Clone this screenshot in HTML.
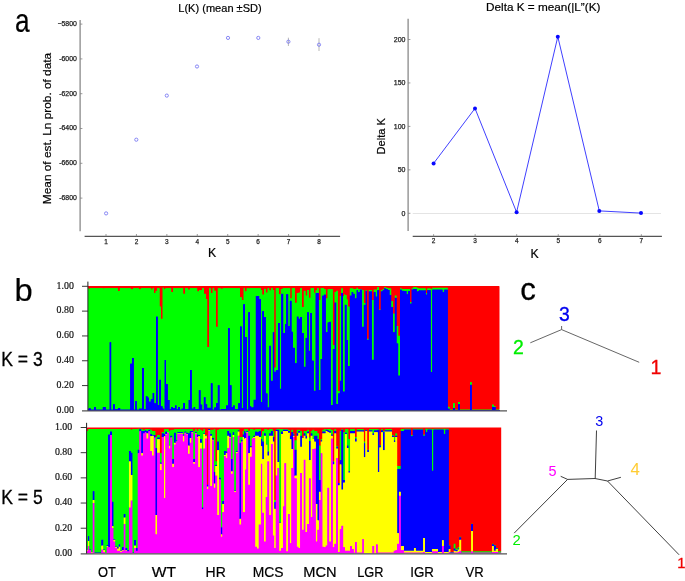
<!DOCTYPE html>
<html lang="en"><head><meta charset="utf-8"><title>STRUCTURE analysis figure</title>
<style>
html,body{margin:0;padding:0;background:#fff;}
body{width:685px;height:581px;overflow:hidden;}
svg{display:block;}
</style></head>
<body>
<svg width="685" height="581" viewBox="0 0 685 581">
<rect width="685" height="581" fill="#fff"/>
<g id="plot-lk"><line x1="80.1" y1="20" x2="80.1" y2="231.2" stroke="#808080" stroke-width="1.2"/>
<line x1="84.6" y1="236.4" x2="340.1" y2="236.4" stroke="#555" stroke-width="1.2"/>
<line x1="80.1" y1="24.1" x2="82.4" y2="24.1" stroke="#808080" stroke-width="0.8"/>
<text x="76.8" y="26" font-family="'Liberation Sans',Arial,sans-serif" font-size="6.9" fill="#222" text-anchor="end" stroke="#222" stroke-width="0.25">−5800</text>
<line x1="80.1" y1="58.9" x2="82.4" y2="58.9" stroke="#808080" stroke-width="0.8"/>
<text x="76.8" y="60.8" font-family="'Liberation Sans',Arial,sans-serif" font-size="6.9" fill="#222" text-anchor="end" stroke="#222" stroke-width="0.25">-6000</text>
<line x1="80.1" y1="93.7" x2="82.4" y2="93.7" stroke="#808080" stroke-width="0.8"/>
<text x="76.8" y="95.6" font-family="'Liberation Sans',Arial,sans-serif" font-size="6.9" fill="#222" text-anchor="end" stroke="#222" stroke-width="0.25">-6200</text>
<line x1="80.1" y1="128.5" x2="82.4" y2="128.5" stroke="#808080" stroke-width="0.8"/>
<text x="76.8" y="130.4" font-family="'Liberation Sans',Arial,sans-serif" font-size="6.9" fill="#222" text-anchor="end" stroke="#222" stroke-width="0.25">-6400</text>
<line x1="80.1" y1="163.3" x2="82.4" y2="163.3" stroke="#808080" stroke-width="0.8"/>
<text x="76.8" y="165.2" font-family="'Liberation Sans',Arial,sans-serif" font-size="6.9" fill="#222" text-anchor="end" stroke="#222" stroke-width="0.25">-6600</text>
<line x1="80.1" y1="198.1" x2="82.4" y2="198.1" stroke="#808080" stroke-width="0.8"/>
<text x="76.8" y="200" font-family="'Liberation Sans',Arial,sans-serif" font-size="6.9" fill="#222" text-anchor="end" stroke="#222" stroke-width="0.25">-6800</text>
<line x1="106" y1="234" x2="106" y2="236.3" stroke="#808080" stroke-width="0.8"/>
<text x="106" y="243.6" font-family="'Liberation Sans',Arial,sans-serif" font-size="7.3" fill="#222" text-anchor="middle" textLength="3.6" lengthAdjust="spacingAndGlyphs" stroke="#222" stroke-width="0.25">1</text>
<line x1="136.43" y1="234" x2="136.43" y2="236.3" stroke="#808080" stroke-width="0.8"/>
<text x="136.43" y="243.6" font-family="'Liberation Sans',Arial,sans-serif" font-size="7.3" fill="#222" text-anchor="middle" textLength="3.6" lengthAdjust="spacingAndGlyphs" stroke="#222" stroke-width="0.25">2</text>
<line x1="166.86" y1="234" x2="166.86" y2="236.3" stroke="#808080" stroke-width="0.8"/>
<text x="166.86" y="243.6" font-family="'Liberation Sans',Arial,sans-serif" font-size="7.3" fill="#222" text-anchor="middle" textLength="3.6" lengthAdjust="spacingAndGlyphs" stroke="#222" stroke-width="0.25">3</text>
<line x1="197.29" y1="234" x2="197.29" y2="236.3" stroke="#808080" stroke-width="0.8"/>
<text x="197.29" y="243.6" font-family="'Liberation Sans',Arial,sans-serif" font-size="7.3" fill="#222" text-anchor="middle" textLength="3.6" lengthAdjust="spacingAndGlyphs" stroke="#222" stroke-width="0.25">4</text>
<line x1="227.72" y1="234" x2="227.72" y2="236.3" stroke="#808080" stroke-width="0.8"/>
<text x="227.72" y="243.6" font-family="'Liberation Sans',Arial,sans-serif" font-size="7.3" fill="#222" text-anchor="middle" textLength="3.6" lengthAdjust="spacingAndGlyphs" stroke="#222" stroke-width="0.25">5</text>
<line x1="258.15" y1="234" x2="258.15" y2="236.3" stroke="#808080" stroke-width="0.8"/>
<text x="258.15" y="243.6" font-family="'Liberation Sans',Arial,sans-serif" font-size="7.3" fill="#222" text-anchor="middle" textLength="3.6" lengthAdjust="spacingAndGlyphs" stroke="#222" stroke-width="0.25">6</text>
<line x1="288.58" y1="234" x2="288.58" y2="236.3" stroke="#808080" stroke-width="0.8"/>
<text x="288.58" y="243.6" font-family="'Liberation Sans',Arial,sans-serif" font-size="7.3" fill="#222" text-anchor="middle" textLength="3.6" lengthAdjust="spacingAndGlyphs" stroke="#222" stroke-width="0.25">7</text>
<line x1="319.01" y1="234" x2="319.01" y2="236.3" stroke="#808080" stroke-width="0.8"/>
<text x="319.01" y="243.6" font-family="'Liberation Sans',Arial,sans-serif" font-size="7.3" fill="#222" text-anchor="middle" textLength="3.6" lengthAdjust="spacingAndGlyphs" stroke="#222" stroke-width="0.25">8</text>
<circle cx="106.1" cy="213.4" r="1.6" fill="none" stroke="#7474f2" stroke-width="0.85"/>
<circle cx="136.3" cy="139.7" r="1.6" fill="none" stroke="#7474f2" stroke-width="0.85"/>
<circle cx="166.8" cy="95.6" r="1.6" fill="none" stroke="#7474f2" stroke-width="0.85"/>
<circle cx="197" cy="66.5" r="1.6" fill="none" stroke="#7474f2" stroke-width="0.85"/>
<circle cx="228" cy="37.9" r="1.6" fill="none" stroke="#7474f2" stroke-width="0.85"/>
<circle cx="258.3" cy="37.9" r="1.6" fill="none" stroke="#7474f2" stroke-width="0.85"/>
<line x1="288.4" y1="37.7" x2="288.4" y2="46" stroke="#999" stroke-width="0.7"/>
<circle cx="288.4" cy="41.7" r="1.6" fill="none" stroke="#7474f2" stroke-width="0.85"/>
<line x1="319" y1="38.2" x2="319" y2="51" stroke="#999" stroke-width="0.7"/>
<circle cx="319" cy="44.7" r="1.6" fill="none" stroke="#7474f2" stroke-width="0.85"/>
<text x="220" y="12.2" font-family="'Liberation Sans',Arial,sans-serif" font-size="11.5" fill="#000" text-anchor="middle" textLength="83.4" lengthAdjust="spacingAndGlyphs" stroke="#000" stroke-width="0.2">L(K) (mean ±SD)</text>
<text x="212" y="257.3" font-family="'Liberation Sans',Arial,sans-serif" font-size="12.3" fill="#000" text-anchor="middle" stroke="#000" stroke-width="0.2">K</text>
<text transform="translate(50.9,128.5) rotate(-90)" font-family="'Liberation Sans',Arial,sans-serif" font-size="11.8" text-anchor="middle" textLength="151.3" lengthAdjust="spacingAndGlyphs" fill="#000" stroke="#000" stroke-width="0.2">Mean of est. Ln prob. of data</text></g>
<g id="plot-deltak"><line x1="412.7" y1="213.5" x2="661" y2="213.5" stroke="#e4e4e4" stroke-width="1"/>
<line x1="408.1" y1="18.8" x2="408.1" y2="231" stroke="#808080" stroke-width="1.2"/>
<line x1="412.7" y1="236.4" x2="661.9" y2="236.4" stroke="#555" stroke-width="1.2"/>
<line x1="408.1" y1="213.3" x2="410.4" y2="213.3" stroke="#808080" stroke-width="0.8"/>
<text x="405.5" y="215.8" font-family="'Liberation Sans',Arial,sans-serif" font-size="7" fill="#222" text-anchor="end" stroke="#222" stroke-width="0.25">0</text>
<line x1="408.1" y1="169.85" x2="410.4" y2="169.85" stroke="#808080" stroke-width="0.8"/>
<text x="405.5" y="172.35" font-family="'Liberation Sans',Arial,sans-serif" font-size="7" fill="#222" text-anchor="end" stroke="#222" stroke-width="0.25">50</text>
<line x1="408.1" y1="126.4" x2="410.4" y2="126.4" stroke="#808080" stroke-width="0.8"/>
<text x="405.5" y="128.9" font-family="'Liberation Sans',Arial,sans-serif" font-size="7" fill="#222" text-anchor="end" stroke="#222" stroke-width="0.25">100</text>
<line x1="408.1" y1="82.95" x2="410.4" y2="82.95" stroke="#808080" stroke-width="0.8"/>
<text x="405.5" y="85.45" font-family="'Liberation Sans',Arial,sans-serif" font-size="7" fill="#222" text-anchor="end" stroke="#222" stroke-width="0.25">150</text>
<line x1="408.1" y1="39.5" x2="410.4" y2="39.5" stroke="#808080" stroke-width="0.8"/>
<text x="405.5" y="42" font-family="'Liberation Sans',Arial,sans-serif" font-size="7" fill="#222" text-anchor="end" stroke="#222" stroke-width="0.25">200</text>
<line x1="433.6" y1="234.2" x2="433.6" y2="236.4" stroke="#808080" stroke-width="0.8"/>
<text x="433.6" y="243.4" font-family="'Liberation Sans',Arial,sans-serif" font-size="7.3" fill="#222" text-anchor="middle" textLength="3.6" lengthAdjust="spacingAndGlyphs" stroke="#222" stroke-width="0.25">2</text>
<line x1="475.15" y1="234.2" x2="475.15" y2="236.4" stroke="#808080" stroke-width="0.8"/>
<text x="475.15" y="243.4" font-family="'Liberation Sans',Arial,sans-serif" font-size="7.3" fill="#222" text-anchor="middle" textLength="3.6" lengthAdjust="spacingAndGlyphs" stroke="#222" stroke-width="0.25">3</text>
<line x1="516.7" y1="234.2" x2="516.7" y2="236.4" stroke="#808080" stroke-width="0.8"/>
<text x="516.7" y="243.4" font-family="'Liberation Sans',Arial,sans-serif" font-size="7.3" fill="#222" text-anchor="middle" textLength="3.6" lengthAdjust="spacingAndGlyphs" stroke="#222" stroke-width="0.25">4</text>
<line x1="558.25" y1="234.2" x2="558.25" y2="236.4" stroke="#808080" stroke-width="0.8"/>
<text x="558.25" y="243.4" font-family="'Liberation Sans',Arial,sans-serif" font-size="7.3" fill="#222" text-anchor="middle" textLength="3.6" lengthAdjust="spacingAndGlyphs" stroke="#222" stroke-width="0.25">5</text>
<line x1="599.8" y1="234.2" x2="599.8" y2="236.4" stroke="#808080" stroke-width="0.8"/>
<text x="599.8" y="243.4" font-family="'Liberation Sans',Arial,sans-serif" font-size="7.3" fill="#222" text-anchor="middle" textLength="3.6" lengthAdjust="spacingAndGlyphs" stroke="#222" stroke-width="0.25">6</text>
<line x1="641.35" y1="234.2" x2="641.35" y2="236.4" stroke="#808080" stroke-width="0.8"/>
<text x="641.35" y="243.4" font-family="'Liberation Sans',Arial,sans-serif" font-size="7.3" fill="#222" text-anchor="middle" textLength="3.6" lengthAdjust="spacingAndGlyphs" stroke="#222" stroke-width="0.25">7</text>
<polyline fill="none" stroke="#4040ff" stroke-width="1" points="433.6,163.4 475,108.4 516.6,212.2 557.8,36.7 599.3,210.9 641,213.1"/>
<circle cx="433.6" cy="163.4" r="2" fill="#0808ff"/>
<circle cx="475" cy="108.4" r="2" fill="#0808ff"/>
<circle cx="516.6" cy="212.2" r="2" fill="#0808ff"/>
<circle cx="557.8" cy="36.7" r="2" fill="#0808ff"/>
<circle cx="599.3" cy="210.9" r="2" fill="#0808ff"/>
<circle cx="641" cy="213.1" r="2" fill="#0808ff"/>
<text x="486" y="11.3" font-family="'Liberation Sans',Arial,sans-serif" font-size="11.5" fill="#000" text-anchor="start" textLength="114.4" lengthAdjust="spacingAndGlyphs" stroke="#000" stroke-width="0.2">Delta K = mean(|L”(K)</text>
<text x="534.7" y="258" font-family="'Liberation Sans',Arial,sans-serif" font-size="12.3" fill="#000" text-anchor="middle" stroke="#000" stroke-width="0.2">K</text>
<text transform="translate(385.3,136.3) rotate(-90)" font-family="'Liberation Sans',Arial,sans-serif" font-size="11.8" text-anchor="middle" textLength="36.4" lengthAdjust="spacingAndGlyphs" fill="#000" stroke="#000" stroke-width="0.2">Delta K</text></g>
<g id="barplots"><g shape-rendering="crispEdges"><rect x="88" y="286.3" width="411.4" height="124.2" fill="#f00"/>
<path fill="#0f0" d="M88 410.5V288.3H88.75V289.3H89.75V288.3H102.75V288.4H104.5V288.3H118V291.1H119.75V288.3H130.75V289.3H133V288.3H139V289.3H140.75V288.3H151.25V289.6H152.5V288.3H154V293.1H155.5V290.8H157V288.3H159.5V306.6H161V318.8H162.5V287.8H164V289.3H165.25V288.3H171.25V291.9H173V288.3H183.25V293.7H185V288.3H188V289.6H189.75V288.3H197.25V291.4H199V290.2H202V288.3H204V293.7H205.75V299H207.25V346.9H209V288.3H210.75V293.1H212.5V288.3H214.25V290.8H216V326.7H217.75V288.3H220.75V288.8H222.5V288.3H240V297.2H241.75V300.1H243.5V288.3H245V291.4H246.5V288.3H248.25V288.4H249.75V288.3H261V290H262.25V294.6H264V288.8H265.75V292.5H267.5V288.3H269.25V290.4H271V288.3H272.75V290H274.25V367.6H275.75V288.3H279V294.3H280.75V289H282.5V288.3H290.25V298.4H291.75V288.3H295V302.8H296.75V293.1H298.5V292.5H300.25V288.3H302V307.1H303.75V290.8H305.5V295.5H307.25V290H309V297.8H310.5V288.3H314V292.8H315.5V290.2H317V288.3H318.75V300.1H320.5V288.3H324V289.3H325.75V298.4H327.5V289.3H332.75V345.2H334.5V291.9H336.25V290.8H338V391H339.75V296H341.25V288.4H343V296H344V294.3H344.75V294.9H346.5V299.5H348V306.6H349.75V288.4H353.25V289H356.5V287.8H358V289H362V290H363.75V303.1H365.5V290H367V338.7H368.75V290H372V300.1H373.75V289.6H377.25V287.3H379V309.5H380.75V290.2H382.5V289H384.25V287.3H386V287.8H387.75V288.4H391.25V301.3H393V313.6H394.75V295.5H396.5V325.9H398.25V335.8H400V288.4H401.75V289H410V302.1H411.5V288.4H413.25V287.3H416.75V287.8H418.5V288.4H425.75V293.1H427.25V288.4H430.75V289H432.25V287.8H447.75V406.8H449.5V409.5H453V403.3H454.75V409.5H458V401.9H459.75V409.5H470V382.3H471.75V409.5H492V404.5H493.75V406.2H495.5V409.5H499.5V410.5Z"/>
<path fill="#00f" d="M88 410.5V409.2H88.75V408H90.5V409.5H94V407.1H95.75V409.6H102.75V407.1H105.75V409.6H109.5V342.2H111.25V409.6H113V404.2H114.75V409.2H118V408H120.25V409.5H130.25V363.5H132V358H133.75V409.6H135.25V401H136.75V409.6H139V408.6H142V368H144V409.2H145.75V396.3H147.5V397.5H149V401.6H150.75V399.2H152.5V393H154.25V403.3H156V316.5H157.75V405.1H159.25V379.7H161V406.2H162.5V408.6H164V409.6H164.5V360H166V384H167.75V400H169.5V409.2H171.25V407.1H173V408H175V405.4H176.5V409.2H178V407.1H179.75V409.6H181.5V408.6H183.25V403H185V409.2H188.5V400H190V370H191.75V408.6H193.5V407.1H195.25V409.2H198.75V390.2H200.5V404.5H202.25V409.6H203.75V397.2H205.5V404.2H207.25V407.8H210.75V383.2H212.5V409.6H214.25V407.4H216V403H217.75V385.2H219.5V409.6H221.25V408.9H226V405.4H228V328.2H229.75V385.2H231.5V407.1H233V405.4H234.75V409.2H238.25V403.3H240V326.4H241.75V408H243.25V304.2H245V337H247V409.6H248.25V312.2H250V406.2H251.25V407.4H253.5V399.8H255.75V296H259.25V299H261V402.1H262.25V311.2H264V317.1H265.75V393.4H267.5V407.4H269.25V345.7H271V380.7H272.75V332.3H274.25V371.7H275.75V370.3H278V322.9H279.75V388.7H281.25V293.7H283.25V332.9H285V324.1H286.25V294.3H288.25V325.9H289.75V300.7H291.5V331.7H293V347.8H295V363.3H296.75V316.5H298.5V318.8H300.25V317.1H302V332.9H303.75V366.8H305.5V338.1H307.25V312.2H308.75V350.7H310.25V313H312V360.6H313.75V390.7H315.5V293.1H318.75V389.9H320.5V358.9H322.25V295.5H324V294.6H325.75V332.3H327.5V322.4H329.25V321.8H331V405.1H332.75V348.9H334.5V302.5H336.25V403.9H338V393.4H339.75V380.7H341.25V293.1H343V391.6H344.75V304.8H346.5V339.9H348V365.9H349.75V295.5H351.5V291.9H353.25V293.7H354.75V298.4H356.5V290.2H358V292.3H359.75V289.6H362V326.7H363.75V304.8H365.5V290.8H367V339.7H368.75V291.4H372V359.8H373.75V291.9H375.5V296.6H377.25V290.2H379V310.3H380.75V291.4H382.5V290.2H384.25V288.4H386V289H387.75V290H389.5V294.9H391.25V307.1H393V332.3H394.75V297.8H396.5V343.4H398.25V375.5H400V289.6H401.75V290.8H404V291.1H406.5V294.3H408V291.1H410V303.6H411.5V289.6H413.25V289H416.75V291.4H418.5V290.4H425.75V294.6H427.25V290.2H430.75V372H432.25V289.6H442.5V291.9H444.25V289.6H447.75V408.6H449.5V409.9H453V408H454.75V409.9H458V404.2H459.75V409.9H470V384.8H471.75V409.9H492V406.8H493.75V407.1H495.5V409.9H499.5V410.5Z"/></g>
<path fill="#f00" d="M88 286.3H88.75V288.3H88ZM88.75 286.3H89.75V289.3H88.75ZM89.75 286.3H102.75V288.3H89.75ZM102.75 286.3H104.5V288.4H102.75ZM104.5 286.3H118V288.3H104.5ZM118 286.3H119.75V291.1H118ZM119.75 286.3H130.75V288.3H119.75ZM130.75 286.3H133V289.3H130.75ZM133 286.3H139V288.3H133ZM139 286.3H140.75V289.3H139ZM140.75 286.3H151.25V288.3H140.75ZM151.25 286.3H152.5V289.6H151.25ZM152.5 286.3H154V288.3H152.5ZM154 286.3H155.5V293.1H154ZM155.5 286.3H157V290.8H155.5ZM157 286.3H159.5V288.3H157ZM159.5 286.3H161V306.6H159.5ZM161 286.3H162.5V318.8H161ZM162.5 286.3H164V287.8H162.5ZM164 286.3H165.25V289.3H164ZM165.25 286.3H171.25V288.3H165.25ZM171.25 286.3H173V291.9H171.25ZM173 286.3H183.25V288.3H173ZM183.25 286.3H185V293.7H183.25ZM185 286.3H188V288.3H185ZM188 286.3H189.75V289.6H188ZM189.75 286.3H197.25V288.3H189.75ZM197.25 286.3H199V291.4H197.25ZM199 286.3H202V290.2H199ZM202 286.3H204V288.3H202ZM204 286.3H205.75V293.7H204ZM205.75 286.3H207.25V299H205.75ZM207.25 286.3H209V346.9H207.25ZM209 286.3H210.75V288.3H209ZM210.75 286.3H212.5V293.1H210.75ZM212.5 286.3H214.25V288.3H212.5ZM214.25 286.3H216V290.8H214.25ZM216 286.3H217.75V326.7H216ZM217.75 286.3H220.75V288.3H217.75ZM220.75 286.3H222.5V288.8H220.75ZM222.5 286.3H240V288.3H222.5ZM240 286.3H241.75V297.2H240ZM241.75 286.3H243.5V300.1H241.75ZM243.5 286.3H245V288.3H243.5ZM245 286.3H246.5V291.4H245ZM246.5 286.3H248.25V288.3H246.5ZM248.25 286.3H249.75V288.4H248.25ZM249.75 286.3H261V288.3H249.75ZM261 286.3H262.25V290H261ZM262.25 286.3H264V294.6H262.25ZM264 286.3H265.75V288.8H264ZM265.75 286.3H267.5V292.5H265.75ZM267.5 286.3H269.25V288.3H267.5ZM269.25 286.3H271V290.4H269.25ZM271 286.3H272.75V288.3H271ZM272.75 286.3H274.25V290H272.75ZM274.25 286.3H275.75V367.6H274.25ZM275.75 286.3H279V288.3H275.75ZM279 286.3H280.75V294.3H279ZM280.75 286.3H282.5V289H280.75ZM282.5 286.3H290.25V288.3H282.5ZM290.25 286.3H291.75V298.4H290.25ZM291.75 286.3H295V288.3H291.75ZM295 286.3H296.75V302.8H295ZM296.75 286.3H298.5V293.1H296.75ZM298.5 286.3H300.25V292.5H298.5ZM300.25 286.3H302V288.3H300.25ZM302 286.3H303.75V307.1H302ZM303.75 286.3H305.5V290.8H303.75ZM305.5 286.3H307.25V295.5H305.5ZM307.25 286.3H309V290H307.25ZM309 286.3H310.5V297.8H309ZM310.5 286.3H314V288.3H310.5ZM314 286.3H315.5V292.8H314ZM315.5 286.3H317V290.2H315.5ZM317 286.3H318.75V288.3H317ZM318.75 286.3H320.5V300.1H318.75ZM320.5 286.3H324V288.3H320.5ZM324 286.3H325.75V289.3H324ZM325.75 286.3H327.5V298.4H325.75ZM327.5 286.3H332.75V289.3H327.5ZM332.75 286.3H334.5V345.2H332.75ZM334.5 286.3H336.25V291.9H334.5ZM336.25 286.3H338V290.8H336.25ZM338 286.3H339.75V391H338ZM339.75 286.3H341.25V296H339.75ZM341.25 286.3H343V288.4H341.25ZM343 286.3H344V296H343ZM344 286.3H344.75V294.3H344ZM344.75 286.3H346.5V294.9H344.75ZM346.5 286.3H348V299.5H346.5ZM348 286.3H349.75V306.6H348ZM349.75 286.3H353.25V288.4H349.75ZM353.25 286.3H356.5V289H353.25ZM356.5 286.3H358V287.8H356.5ZM358 286.3H362V289H358ZM362 286.3H363.75V290H362ZM363.75 286.3H365.5V303.1H363.75ZM365.5 286.3H367V290H365.5ZM367 286.3H368.75V338.7H367ZM368.75 286.3H372V290H368.75ZM372 286.3H373.75V300.1H372ZM373.75 286.3H377.25V289.6H373.75ZM377.25 286.3H379V287.3H377.25ZM379 286.3H380.75V309.5H379ZM380.75 286.3H382.5V290.2H380.75ZM382.5 286.3H384.25V289H382.5ZM384.25 286.3H386V287.3H384.25ZM386 286.3H387.75V287.8H386ZM387.75 286.3H391.25V288.4H387.75ZM391.25 286.3H393V301.3H391.25ZM393 286.3H394.75V313.6H393ZM394.75 286.3H396.5V295.5H394.75ZM396.5 286.3H398.25V325.9H396.5ZM398.25 286.3H400V335.8H398.25ZM400 286.3H401.75V288.4H400ZM401.75 286.3H410V289H401.75ZM410 286.3H411.5V302.1H410ZM411.5 286.3H413.25V288.4H411.5ZM413.25 286.3H416.75V287.3H413.25ZM416.75 286.3H418.5V287.8H416.75ZM418.5 286.3H425.75V288.4H418.5ZM425.75 286.3H427.25V293.1H425.75ZM427.25 286.3H430.75V288.4H427.25ZM430.75 286.3H432.25V289H430.75ZM432.25 286.3H447.75V287.8H432.25ZM447.75 286.3H449.5V406.8H447.75ZM449.5 286.3H453V409.5H449.5ZM453 286.3H454.75V403.3H453ZM454.75 286.3H458V409.5H454.75ZM458 286.3H459.75V401.9H458ZM459.75 286.3H470V409.5H459.75ZM470 286.3H471.75V382.3H470ZM471.75 286.3H492V409.5H471.75ZM492 286.3H493.75V404.5H492ZM493.75 286.3H495.5V406.2H493.75ZM495.5 286.3H499.5V409.5H495.5Z"/>
<path fill="#0f0" d="M88 288.3H88.75V409.2H88ZM88.75 289.3H89.75V408H88.75ZM89.75 288.3H90.5V408H89.75ZM90.5 288.3H94V409.5H90.5ZM94 288.3H95.75V407.1H94ZM95.75 288.3H102.75V409.6H95.75ZM102.75 288.4H104.5V407.1H102.75ZM104.5 288.3H105.75V407.1H104.5ZM105.75 288.3H109.5V409.6H105.75ZM109.5 288.3H111.25V342.2H109.5ZM111.25 288.3H113V409.6H111.25ZM113 288.3H114.75V404.2H113ZM114.75 288.3H118V409.2H114.75ZM118 291.1H119.75V408H118ZM119.75 288.3H120.25V408H119.75ZM120.25 288.3H130.25V409.5H120.25ZM130.25 288.3H130.75V363.5H130.25ZM130.75 289.3H132V363.5H130.75ZM132 289.3H133V358H132ZM133 288.3H133.75V358H133ZM133.75 288.3H135.25V409.6H133.75ZM135.25 288.3H136.75V401H135.25ZM136.75 288.3H139V409.6H136.75ZM139 289.3H140.75V408.6H139ZM140.75 288.3H142V408.6H140.75ZM142 288.3H144V368H142ZM144 288.3H145.75V409.2H144ZM145.75 288.3H147.5V396.3H145.75ZM147.5 288.3H149V397.5H147.5ZM149 288.3H150.75V401.6H149ZM150.75 288.3H151.25V399.2H150.75ZM151.25 289.6H152.5V399.2H151.25ZM152.5 288.3H154V393H152.5ZM154 293.1H154.25V393H154ZM154.25 293.1H155.5V403.3H154.25ZM155.5 290.8H156V403.3H155.5ZM156 290.8H157V316.5H156ZM157 288.3H157.75V316.5H157ZM157.75 288.3H159.25V405.1H157.75ZM159.25 288.3H159.5V379.7H159.25ZM159.5 306.6H161V379.7H159.5ZM161 318.8H162.5V406.2H161ZM162.5 287.8H164V408.6H162.5ZM164 289.3H164.5V409.6H164ZM164.5 289.3H165.25V360H164.5ZM165.25 288.3H166V360H165.25ZM166 288.3H167.75V384H166ZM167.75 288.3H169.5V400H167.75ZM169.5 288.3H171.25V409.2H169.5ZM171.25 291.9H173V407.1H171.25ZM173 288.3H175V408H173ZM175 288.3H176.5V405.4H175ZM176.5 288.3H178V409.2H176.5ZM178 288.3H179.75V407.1H178ZM179.75 288.3H181.5V409.6H179.75ZM181.5 288.3H183.25V408.6H181.5ZM183.25 293.7H185V403H183.25ZM185 288.3H188V409.2H185ZM188 289.6H188.5V409.2H188ZM188.5 289.6H189.75V400H188.5ZM189.75 288.3H190V400H189.75ZM190 288.3H191.75V370H190ZM191.75 288.3H193.5V408.6H191.75ZM193.5 288.3H195.25V407.1H193.5ZM195.25 288.3H197.25V409.2H195.25ZM197.25 291.4H198.75V409.2H197.25ZM198.75 291.4H199V390.2H198.75ZM199 290.2H200.5V390.2H199ZM200.5 290.2H202V404.5H200.5ZM202 288.3H202.25V404.5H202ZM202.25 288.3H203.75V409.6H202.25ZM203.75 288.3H204V397.2H203.75ZM204 293.7H205.5V397.2H204ZM205.5 293.7H205.75V404.2H205.5ZM205.75 299H207.25V404.2H205.75ZM207.25 346.9H209V407.8H207.25ZM209 288.3H210.75V407.8H209ZM210.75 293.1H212.5V383.2H210.75ZM212.5 288.3H214.25V409.6H212.5ZM214.25 290.8H216V407.4H214.25ZM216 326.7H217.75V403H216ZM217.75 288.3H219.5V385.2H217.75ZM219.5 288.3H220.75V409.6H219.5ZM220.75 288.8H221.25V409.6H220.75ZM221.25 288.8H222.5V408.9H221.25ZM222.5 288.3H226V408.9H222.5ZM226 288.3H228V405.4H226ZM228 288.3H229.75V328.2H228ZM229.75 288.3H231.5V385.2H229.75ZM231.5 288.3H233V407.1H231.5ZM233 288.3H234.75V405.4H233ZM234.75 288.3H238.25V409.2H234.75ZM238.25 288.3H240V403.3H238.25ZM240 297.2H241.75V326.4H240ZM241.75 300.1H243.25V408H241.75ZM243.25 300.1H243.5V304.2H243.25ZM243.5 288.3H245V304.2H243.5ZM245 291.4H246.5V337H245ZM246.5 288.3H247V337H246.5ZM247 288.3H248.25V409.6H247ZM248.25 288.4H249.75V312.2H248.25ZM249.75 288.3H250V312.2H249.75ZM250 288.3H251.25V406.2H250ZM251.25 288.3H253.5V407.4H251.25ZM253.5 288.3H255.75V399.8H253.5ZM255.75 288.3H259.25V296H255.75ZM259.25 288.3H261V299H259.25ZM261 290H262.25V402.1H261ZM262.25 294.6H264V311.2H262.25ZM264 288.8H265.75V317.1H264ZM265.75 292.5H267.5V393.4H265.75ZM267.5 288.3H269.25V407.4H267.5ZM269.25 290.4H271V345.7H269.25ZM271 288.3H272.75V380.7H271ZM272.75 290H274.25V332.3H272.75ZM274.25 367.6H275.75V371.7H274.25ZM275.75 288.3H278V370.3H275.75ZM278 288.3H279V322.9H278ZM279 294.3H279.75V322.9H279ZM279.75 294.3H280.75V388.7H279.75ZM280.75 289H281.25V388.7H280.75ZM281.25 289H282.5V293.7H281.25ZM282.5 288.3H283.25V293.7H282.5ZM283.25 288.3H285V332.9H283.25ZM285 288.3H286.25V324.1H285ZM286.25 288.3H288.25V294.3H286.25ZM288.25 288.3H289.75V325.9H288.25ZM289.75 288.3H290.25V300.7H289.75ZM290.25 298.4H291.5V300.7H290.25ZM291.5 298.4H291.75V331.7H291.5ZM291.75 288.3H293V331.7H291.75ZM293 288.3H295V347.8H293ZM295 302.8H296.75V363.3H295ZM296.75 293.1H298.5V316.5H296.75ZM298.5 292.5H300.25V318.8H298.5ZM300.25 288.3H302V317.1H300.25ZM302 307.1H303.75V332.9H302ZM303.75 290.8H305.5V366.8H303.75ZM305.5 295.5H307.25V338.1H305.5ZM307.25 290H308.75V312.2H307.25ZM308.75 290H309V350.7H308.75ZM309 297.8H310.25V350.7H309ZM310.25 297.8H310.5V313H310.25ZM310.5 288.3H312V313H310.5ZM312 288.3H313.75V360.6H312ZM313.75 288.3H314V390.7H313.75ZM314 292.8H315.5V390.7H314ZM315.5 290.2H317V293.1H315.5ZM317 288.3H318.75V293.1H317ZM318.75 300.1H320.5V389.9H318.75ZM320.5 288.3H322.25V358.9H320.5ZM322.25 288.3H324V295.5H322.25ZM324 289.3H325.75V294.6H324ZM325.75 298.4H327.5V332.3H325.75ZM327.5 289.3H329.25V322.4H327.5ZM329.25 289.3H331V321.8H329.25ZM331 289.3H332.75V405.1H331ZM332.75 345.2H334.5V348.9H332.75ZM334.5 291.9H336.25V302.5H334.5ZM336.25 290.8H338V403.9H336.25ZM338 391H339.75V393.4H338ZM339.75 296H341.25V380.7H339.75ZM341.25 288.4H343V293.1H341.25ZM343 296H344V391.6H343ZM344 294.3H344.75V391.6H344ZM344.75 294.9H346.5V304.8H344.75ZM346.5 299.5H348V339.9H346.5ZM348 306.6H349.75V365.9H348ZM349.75 288.4H351.5V295.5H349.75ZM351.5 288.4H353.25V291.9H351.5ZM353.25 289H354.75V293.7H353.25ZM354.75 289H356.5V298.4H354.75ZM356.5 287.8H358V290.2H356.5ZM358 289H359.75V292.3H358ZM359.75 289H362V289.6H359.75ZM362 290H363.75V326.7H362ZM363.75 303.1H365.5V304.8H363.75ZM365.5 290H367V290.8H365.5ZM367 338.7H368.75V339.7H367ZM368.75 290H372V291.4H368.75ZM372 300.1H373.75V359.8H372ZM373.75 289.6H375.5V291.9H373.75ZM375.5 289.6H377.25V296.6H375.5ZM377.25 287.3H379V290.2H377.25ZM379 309.5H380.75V310.3H379ZM380.75 290.2H382.5V291.4H380.75ZM382.5 289H384.25V290.2H382.5ZM384.25 287.3H386V288.4H384.25ZM386 287.8H387.75V289H386ZM387.75 288.4H389.5V290H387.75ZM389.5 288.4H391.25V294.9H389.5ZM391.25 301.3H393V307.1H391.25ZM393 313.6H394.75V332.3H393ZM394.75 295.5H396.5V297.8H394.75ZM396.5 325.9H398.25V343.4H396.5ZM398.25 335.8H400V375.5H398.25ZM400 288.4H401.75V289.6H400ZM401.75 289H404V290.8H401.75ZM404 289H406.5V291.1H404ZM406.5 289H408V294.3H406.5ZM408 289H410V291.1H408ZM410 302.1H411.5V303.6H410ZM411.5 288.4H413.25V289.6H411.5ZM413.25 287.3H416.75V289H413.25ZM416.75 287.8H418.5V291.4H416.75ZM418.5 288.4H425.75V290.4H418.5ZM425.75 293.1H427.25V294.6H425.75ZM427.25 288.4H430.75V290.2H427.25ZM430.75 289H432.25V372H430.75ZM432.25 287.8H442.5V289.6H432.25ZM442.5 287.8H444.25V291.9H442.5ZM444.25 287.8H447.75V289.6H444.25ZM447.75 406.8H449.5V408.6H447.75ZM449.5 409.5H453V409.9H449.5ZM453 403.3H454.75V408H453ZM454.75 409.5H458V409.9H454.75ZM458 401.9H459.75V404.2H458ZM459.75 409.5H470V409.9H459.75ZM470 382.3H471.75V384.8H470ZM471.75 409.5H492V409.9H471.75ZM492 404.5H493.75V406.8H492ZM493.75 406.2H495.5V407.1H493.75ZM495.5 409.5H499.5V409.9H495.5Z"/>
<path fill="#00f" d="M88 409.2H88.75V410.5H88ZM88.75 408H90.5V410.5H88.75ZM90.5 409.5H94V410.5H90.5ZM94 407.1H95.75V410.5H94ZM95.75 409.6H102.75V410.5H95.75ZM102.75 407.1H105.75V410.5H102.75ZM105.75 409.6H109.5V410.5H105.75ZM109.5 342.2H111.25V410.5H109.5ZM111.25 409.6H113V410.5H111.25ZM113 404.2H114.75V410.5H113ZM114.75 409.2H118V410.5H114.75ZM118 408H120.25V410.5H118ZM120.25 409.5H130.25V410.5H120.25ZM130.25 363.5H132V410.5H130.25ZM132 358H133.75V410.5H132ZM133.75 409.6H135.25V410.5H133.75ZM135.25 401H136.75V410.5H135.25ZM136.75 409.6H139V410.5H136.75ZM139 408.6H142V410.5H139ZM142 368H144V410.5H142ZM144 409.2H145.75V410.5H144ZM145.75 396.3H147.5V410.5H145.75ZM147.5 397.5H149V410.5H147.5ZM149 401.6H150.75V410.5H149ZM150.75 399.2H152.5V410.5H150.75ZM152.5 393H154.25V410.5H152.5ZM154.25 403.3H156V410.5H154.25ZM156 316.5H157.75V410.5H156ZM157.75 405.1H159.25V410.5H157.75ZM159.25 379.7H161V410.5H159.25ZM161 406.2H162.5V410.5H161ZM162.5 408.6H164V410.5H162.5ZM164 409.6H164.5V410.5H164ZM164.5 360H166V410.5H164.5ZM166 384H167.75V410.5H166ZM167.75 400H169.5V410.5H167.75ZM169.5 409.2H171.25V410.5H169.5ZM171.25 407.1H173V410.5H171.25ZM173 408H175V410.5H173ZM175 405.4H176.5V410.5H175ZM176.5 409.2H178V410.5H176.5ZM178 407.1H179.75V410.5H178ZM179.75 409.6H181.5V410.5H179.75ZM181.5 408.6H183.25V410.5H181.5ZM183.25 403H185V410.5H183.25ZM185 409.2H188.5V410.5H185ZM188.5 400H190V410.5H188.5ZM190 370H191.75V410.5H190ZM191.75 408.6H193.5V410.5H191.75ZM193.5 407.1H195.25V410.5H193.5ZM195.25 409.2H198.75V410.5H195.25ZM198.75 390.2H200.5V410.5H198.75ZM200.5 404.5H202.25V410.5H200.5ZM202.25 409.6H203.75V410.5H202.25ZM203.75 397.2H205.5V410.5H203.75ZM205.5 404.2H207.25V410.5H205.5ZM207.25 407.8H210.75V410.5H207.25ZM210.75 383.2H212.5V410.5H210.75ZM212.5 409.6H214.25V410.5H212.5ZM214.25 407.4H216V410.5H214.25ZM216 403H217.75V410.5H216ZM217.75 385.2H219.5V410.5H217.75ZM219.5 409.6H221.25V410.5H219.5ZM221.25 408.9H226V410.5H221.25ZM226 405.4H228V410.5H226ZM228 328.2H229.75V410.5H228ZM229.75 385.2H231.5V410.5H229.75ZM231.5 407.1H233V410.5H231.5ZM233 405.4H234.75V410.5H233ZM234.75 409.2H238.25V410.5H234.75ZM238.25 403.3H240V410.5H238.25ZM240 326.4H241.75V410.5H240ZM241.75 408H243.25V410.5H241.75ZM243.25 304.2H245V410.5H243.25ZM245 337H247V410.5H245ZM247 409.6H248.25V410.5H247ZM248.25 312.2H250V410.5H248.25ZM250 406.2H251.25V410.5H250ZM251.25 407.4H253.5V410.5H251.25ZM253.5 399.8H255.75V410.5H253.5ZM255.75 296H259.25V410.5H255.75ZM259.25 299H261V410.5H259.25ZM261 402.1H262.25V410.5H261ZM262.25 311.2H264V410.5H262.25ZM264 317.1H265.75V410.5H264ZM265.75 393.4H267.5V410.5H265.75ZM267.5 407.4H269.25V410.5H267.5ZM269.25 345.7H271V410.5H269.25ZM271 380.7H272.75V410.5H271ZM272.75 332.3H274.25V410.5H272.75ZM274.25 371.7H275.75V410.5H274.25ZM275.75 370.3H278V410.5H275.75ZM278 322.9H279.75V410.5H278ZM279.75 388.7H281.25V410.5H279.75ZM281.25 293.7H283.25V410.5H281.25ZM283.25 332.9H285V410.5H283.25ZM285 324.1H286.25V410.5H285ZM286.25 294.3H288.25V410.5H286.25ZM288.25 325.9H289.75V410.5H288.25ZM289.75 300.7H291.5V410.5H289.75ZM291.5 331.7H293V410.5H291.5ZM293 347.8H295V410.5H293ZM295 363.3H296.75V410.5H295ZM296.75 316.5H298.5V410.5H296.75ZM298.5 318.8H300.25V410.5H298.5ZM300.25 317.1H302V410.5H300.25ZM302 332.9H303.75V410.5H302ZM303.75 366.8H305.5V410.5H303.75ZM305.5 338.1H307.25V410.5H305.5ZM307.25 312.2H308.75V410.5H307.25ZM308.75 350.7H310.25V410.5H308.75ZM310.25 313H312V410.5H310.25ZM312 360.6H313.75V410.5H312ZM313.75 390.7H315.5V410.5H313.75ZM315.5 293.1H318.75V410.5H315.5ZM318.75 389.9H320.5V410.5H318.75ZM320.5 358.9H322.25V410.5H320.5ZM322.25 295.5H324V410.5H322.25ZM324 294.6H325.75V410.5H324ZM325.75 332.3H327.5V410.5H325.75ZM327.5 322.4H329.25V410.5H327.5ZM329.25 321.8H331V410.5H329.25ZM331 405.1H332.75V410.5H331ZM332.75 348.9H334.5V410.5H332.75ZM334.5 302.5H336.25V410.5H334.5ZM336.25 403.9H338V410.5H336.25ZM338 393.4H339.75V410.5H338ZM339.75 380.7H341.25V410.5H339.75ZM341.25 293.1H343V410.5H341.25ZM343 391.6H344.75V410.5H343ZM344.75 304.8H346.5V410.5H344.75ZM346.5 339.9H348V410.5H346.5ZM348 365.9H349.75V410.5H348ZM349.75 295.5H351.5V410.5H349.75ZM351.5 291.9H353.25V410.5H351.5ZM353.25 293.7H354.75V410.5H353.25ZM354.75 298.4H356.5V410.5H354.75ZM356.5 290.2H358V410.5H356.5ZM358 292.3H359.75V410.5H358ZM359.75 289.6H362V410.5H359.75ZM362 326.7H363.75V410.5H362ZM363.75 304.8H365.5V410.5H363.75ZM365.5 290.8H367V410.5H365.5ZM367 339.7H368.75V410.5H367ZM368.75 291.4H372V410.5H368.75ZM372 359.8H373.75V410.5H372ZM373.75 291.9H375.5V410.5H373.75ZM375.5 296.6H377.25V410.5H375.5ZM377.25 290.2H379V410.5H377.25ZM379 310.3H380.75V410.5H379ZM380.75 291.4H382.5V410.5H380.75ZM382.5 290.2H384.25V410.5H382.5ZM384.25 288.4H386V410.5H384.25ZM386 289H387.75V410.5H386ZM387.75 290H389.5V410.5H387.75ZM389.5 294.9H391.25V410.5H389.5ZM391.25 307.1H393V410.5H391.25ZM393 332.3H394.75V410.5H393ZM394.75 297.8H396.5V410.5H394.75ZM396.5 343.4H398.25V410.5H396.5ZM398.25 375.5H400V410.5H398.25ZM400 289.6H401.75V410.5H400ZM401.75 290.8H404V410.5H401.75ZM404 291.1H406.5V410.5H404ZM406.5 294.3H408V410.5H406.5ZM408 291.1H410V410.5H408ZM410 303.6H411.5V410.5H410ZM411.5 289.6H413.25V410.5H411.5ZM413.25 289H416.75V410.5H413.25ZM416.75 291.4H418.5V410.5H416.75ZM418.5 290.4H425.75V410.5H418.5ZM425.75 294.6H427.25V410.5H425.75ZM427.25 290.2H430.75V410.5H427.25ZM430.75 372H432.25V410.5H430.75ZM432.25 289.6H442.5V410.5H432.25ZM442.5 291.9H444.25V410.5H442.5ZM444.25 289.6H447.75V410.5H444.25ZM447.75 408.6H449.5V410.5H447.75ZM449.5 409.9H453V410.5H449.5ZM453 408H454.75V410.5H453ZM454.75 409.9H458V410.5H454.75ZM458 404.2H459.75V410.5H458ZM459.75 409.9H470V410.5H459.75ZM470 384.8H471.75V410.5H470ZM471.75 409.9H492V410.5H471.75ZM492 406.8H493.75V410.5H492ZM493.75 407.1H495.5V410.5H493.75ZM495.5 409.9H499.5V410.5H495.5Z"/>
<g shape-rendering="crispEdges"><rect x="87.2" y="427.6" width="414" height="125.8" fill="#f00"/>
<path fill="#0f0" d="M87.2 553.4V431H87.95V429.3H89.2V428.9H130.7V429.8H132.45V428.9H137.7V428.7H141.2V429.3H142.95V429.8H144.7V429.3H148.45V428.9H150.2V429.8H151.95V431H155.45V436.9H157.2V435.1H159.7V453.2H161.7V432.2H163.95V429.3H168.7V431H170.45V429.8H173.95V429.3H193.2V431H194.95V429.3H196.7V431H198.2V429.3H199.95V429.8H201.7V431H203.45V429.3H204.95V435.1H206.7V484.8H208.45V428.7H210.2V429.8H213.7V429.3H215.45V461.4H217.2V429.8H218.95V429.3H239.45V436.9H242.7V431H243.95V429.3H248.2V431H249.95V429.3H253.45V429.8H255.2V429.3H260.95V435.7H262.2V431H263.95V429.3H267.45V429.8H269.2V429.3H272.7V431H274.2V499.9H275.7V429.3H277.45V428.7H279.2V429.3H287.95V429.8H289.7V435.7H291.45V429.8H293.2V433.4H294.45V440.4H296.7V429.8H300.2V431H301.95V437.5H303.7V431H307.2V429.8H308.95V437.5H310.7V431H312.45V429.8H314.2V431H317.45V433.4H318.95V445.6H320.7V439.2H322.45V429.8H323.95V429.3H330.95V429.8H332.7V461.4H334.45V429.3H336.2V446.2H337.95V483.1H339.7V431H341.45V429.3H343.2V432.2H344.95V429.3H348.45V439.2H350.2V429.3H354.95V436.9H356.7V429.3H363.7V441.5H365.45V429.8H367.2V449.7H368.95V429.3H379.45V445.1H381.2V429.3H382.95V431H384.7V429.3H391.95V435.1H393.7V436.9H395.45V433.4H397.2V466.1H400.7V429.3H403.95V428.7H410.95V435.1H412.7V428.7H423.2V434.5H424.95V428.7H431.95V429.3H433.45V428.7H448.7V545H450.45V552H453.7V543.8H455.45V548.5H457.7V547.3H459.45V536.8H461.2V551.4H471.2V523.7H472.95V551.4H491.95V543.8H493.7V545H495.7V547.9H497.95V551.4H501.2V553.4Z"/>
<path fill="#00f" d="M87.2 553.4V549.1H87.95V536.2H89.2V549.6H90.95V552H92.7V491.2H94.45V552.6H101.45V539.7H103.2V549.6H104.95V552.6H106.7V545H108.2V434.5H109.95V431.6H111.95V501.7H113.45V539.1H115.2V546.1H116.95V547.3H118.7V544.4H120.2V550.2H121.95V547.3H123.7V514H125.45V547.9H127.2V550.2H128.95V450.9H130.7V452.7H132.45V552.6H134.2V540.1H135.95V547.9H137.7V449.7H139.45V429.3H141.2V431H144.7V430.4H146.45V431.3H148.45V429.8H150.2V433.9H151.95V435.1H155.45V448H157.2V437.5H159.7V462.6H161.7V433.4H163.95V433.9H165.45V431.6H166.95V432.2H168.7V445.1H170.45V435.7H172.2V459.1H173.95V432.8H175.7V440.4H177.45V432.2H182.7V434.5H184.45V431.6H186.2V432.8H187.95V433.4H189.7V431H193.2V459.1H194.95V432.2H196.7V434.5H198.2V435.1H199.95V439.2H201.7V507.5H203.45V433.4H204.95V435.7H206.7V484.8H208.45V429.3H210.2V433.9H211.95V438H213.7V472H215.45V464.9H217.2V441.5H218.95V477.8H220.7V527.4H222.45V501.1H223.95V450.9H225.7V451.5H227.45V431H229.2V433.4H230.95V459.1H232.7V432.2H234.2V490.6H235.95V450.9H237.7V430.4H239.45V443.3H241.2V439.8H242.7V434.5H243.95V431H245.2V432.8H246.45V431H248.2V435.7H249.95V446.2H251.7V438H253.45V435.7H255.2V431.6H256.95V432.2H258.7V431H260.95V439.2H262.2V441.5H263.95V433.4H265.7V443.9H267.45V451.5H269.2V433.4H270.95V431H272.7V436.9H274.2V502.3H275.7V429.8H279.2V522.2H281.2V431.6H282.95V429.8H287.95V431H289.7V435.7H291.45V432.2H293.2V434.5H294.45V449.7H296.7V433.4H298.45V431H300.2V435.7H301.95V437.8H303.7V433.4H305.45V435.7H307.2V431.6H308.95V441H310.7V433.4H312.45V439.2H314.2V435.7H317.45V439.2H318.95V480.1H320.7V440.4H322.45V431.6H325.7V429.8H327.45V430.4H329.2V431H330.95V434.5H332.7V461.7H334.45V431H336.2V446.8H337.95V483.3H339.7V460.3H341.45V429.8H343.2V480.1H344.95V432.8H346.7V445.6H348.45V471.4H350.2V431H354.95V438.6H356.7V430.4H363.7V443.3H365.45V430.4H367.2V450.3H368.95V430.4H372.45V433.4H374.2V430.4H377.7V429.8H379.45V445.6H381.2V430.4H382.95V432.2H384.7V430.4H391.95V435.7H393.7V440.4H395.45V435.7H397.2V469H400.7V431H403.95V429.6H410.95V436.3H412.7V429.6H423.2V435.7H424.95V429.6H425.7V432.2H427.45V429.6H431.95V470.8H433.45V429.6H443.7V433.9H445.45V429.6H448.7V545.6H450.45V552.3H453.7V548.5H455.45V550.2H457.7V548.5H459.45V537.4H461.2V552H471.2V523.9H472.95V552H491.95V544.4H493.7V545.6H495.7V548.5H497.95V552H501.2V553.4Z"/>
<path fill="#ff0" d="M87.2 553.4V549.6H87.95V540.9H89.2V550.2H90.95V552.3H92.7V499.9H94.45V552.9H101.45V545.6H103.2V550.2H104.95V552.8H106.7V546.1H108.2V547.3H109.95V435.1H111.95V526.3H113.45V539.7H115.2V546.7H116.95V548.5H118.7V546.7H120.2V550.8H121.95V550.2H123.7V517.5H125.45V550.2H127.2V551.4H128.95V461.4H130.7V474.9H132.45V552.9H134.2V545.6H135.95V550.8H137.7V453.2H139.45V431.3H141.2V453.2H142.95V433.4H144.7V432.2H146.45V433.4H148.45V431.3H150.2V436.3H151.95V435.7H153.7V437.5H155.45V515.1H157.2V439.2H159.7V463.8H161.7V436.9H163.95V436.3H165.45V433.9H166.95V432.4H168.7V445.6H170.45V437.5H172.2V463.8H173.95V442.7H175.7V441.5H177.45V433.4H182.7V435.7H184.45V432.8H186.2V433.9H187.95V445.6H189.7V438H191.45V432.2H193.2V462H194.95V433.4H196.7V436.9H198.2V436.3H199.95V442.7H201.7V509.3H203.45V433.9H204.95V436.3H206.7V486.6H208.45V430.4H210.2V435.7H211.95V439.8H213.7V483.6H215.45V466.1H217.2V450.3H218.95V479.6H220.7V534.4H222.45V504H223.95V455H225.7V453.2H227.45V435.7H229.2V436.9H230.95V471.4H232.7V435.1H234.2V490.9H235.95V452.1H237.7V431.6H239.45V518.7H241.2V441.5H242.7V436.9H243.95V438.6H245.2V438H246.45V432.2H248.2V453.2H249.95V447.4H251.7V438.3H253.45V436.9H255.2V435.7H258.7V436.9H260.95V446.2H262.2V459.1H263.95V435.7H265.7V444.5H267.45V455.6H269.2V435.7H272.7V441.5H274.2V508.7H275.7V431H277.45V462H279.2V522.7H281.2V433.9H282.95V431H287.95V432.8H289.7V439.2H291.45V449.1H293.2V435.7H294.45V475.5H296.7V435.7H298.45V432.8H300.2V446.8H301.95V438H303.7V435.7H305.45V438.6H307.2V433.4H308.95V460.3H310.7V435.7H312.45V439.2H314.2V441.5H315.7V504H317.45V520.4H318.95V491.8H320.7V441.5H322.45V433.4H325.7V431H327.45V432.2H329.2V432.8H330.95V435.7H332.7V464.4H334.45V433.4H336.2V448.6H337.95V485.4H339.7V464.4H341.45V489.5H343.2V482.5H344.95V433.9H346.7V448H348.45V472.5H350.2V433.4H354.95V441.5H356.7V431.6H363.7V457.3H365.45V431H367.2V452.1H368.95V431.6H372.45V435.1H374.2V432.2H377.7V472H379.45V447.4H381.2V432.2H382.95V450.3H384.7V431.6H391.95V436.9H393.7V442.1H395.45V436.9H397.2V533.3H398.95V491.8H400.7V546.1H403.95V550.8H413.95V547.9H415.7V550.8H423.2V538H424.95V552H431.95V549.1H437.95V552H441.95V540.3H443.7V552H448.7V549.1H450.45V552.7H453.7V550.8H455.45V551.4H457.7V549.6H459.45V539.7H461.2V552.6H471.2V530.9H472.95V552.6H491.95V546.1H493.7V550.8H495.7V549.1H497.95V552.6H501.2V553.4Z"/>
<path fill="#f0f" d="M87.2 553.4V550.8H87.95V546.1H89.2V550.2H90.95V552.7H92.7V502.9H94.45V553.2H101.45V549.6H103.2V552H104.95V553.2H106.7V547.3H109.95V435.1H111.95V528H113.45V541.5H115.2V547.9H116.95V550.8H120.2V552H121.95V550.8H123.7V523.9H125.45V550.8H127.2V551.4H128.95V507.5H130.7V500.5H132.45V553.2H134.2V547.9H135.95V550.8H137.7V453.2H139.45V431.3H141.2V455.6H142.95V433.4H144.7V432.2H146.45V438.6H148.45V431.3H150.2V450.9H151.95V455.6H153.7V437.5H155.45V534.4H157.2V452.7H159.7V470.2H161.7V436.9H163.95V498.2H165.45V434.5H166.95V432.8H168.7V448.6H170.45V438H172.2V467.3H173.95V444.5H175.7V442.1H177.45V433.9H182.7V441.5H184.45V433.4H186.2V434.5H187.95V453.8H189.7V442.7H191.45V432.8H193.2V463.8H194.95V433.9H196.7V437.5H198.2V467.3H199.95V448.6H201.7V509.3H203.45V448.6H204.95V438.6H206.7V488.9H208.45V431H210.2V486H211.95V440.4H213.7V487.7H215.45V475.5H217.2V515.1H218.95V480.1H220.7V536.8H222.45V512.2H223.95V456.2H225.7V457.9H227.45V448H229.2V437.5H230.95V473.7H232.7V436.9H234.2V492.3H235.95V453.2H237.7V435.7H239.45V524.5H241.2V442.1H242.7V512.2H245.2V469.6H246.45V432.8H248.2V484.8H249.95V456.7H251.7V438.6H253.45V438H255.2V546.7H256.95V548.5H258.7V524.5H260.95V463.8H262.2V512.8H263.95V541.5H265.7V497H267.45V461.4H269.2V515.1H270.95V443.9H272.7V535.6H274.2V547.9H275.7V475.5H277.45V467.9H279.2V550.8H281.2V547.9H282.95V506.4H284.45V463.2H286.2V551.4H287.95V514H289.7V543.2H291.45V467.9H293.2V436.9H294.45V478.4H296.7V546.7H298.45V547.9H300.2V473.1H301.95V529.8H303.7V459.7H305.45V532.1H307.2V523.9H308.95V478.4H310.7V516.9H312.45V449.1H314.2V448.6H315.7V541.5H317.45V529.8H318.95V499.9H320.7V453.2H322.45V546.7H323.95V547.3H325.7V545.6H327.45V487.7H329.2V541.5H330.95V438.6H332.7V547.3H334.45V543.8H336.2V457.9H337.95V552H339.7V529.2H341.45V525.7H343.2V547.3H344.95V550.8H350.2V546.1H351.95V549.1H353.7V552.6H354.95V542H356.7V552.6H362.45V539.1H363.7V553.2H372.45V546.1H374.2V553.2H375.95V544.4H377.7V552.6H393.7V550.8H395.45V550.2H397.2V543.8H398.95V495.8H400.7V550.2H403.95V552.6H423.2V552H424.95V552.9H431.95V551.4H437.95V552.9H441.95V546.1H443.7V552.9H448.7V552H450.45V553H453.7V552.6H457.7V552H459.45V550.8H461.2V552.9H471.2V551.4H472.95V552.9H491.95V552H497.95V552.9H501.2V553.4Z"/></g>
<path fill="#f00" d="M87.2 427.6H87.95V431H87.2ZM87.95 427.6H89.2V429.3H87.95ZM89.2 427.6H130.7V428.9H89.2ZM130.7 427.6H132.45V429.8H130.7ZM132.45 427.6H137.7V428.9H132.45ZM137.7 427.6H141.2V428.7H137.7ZM141.2 427.6H142.95V429.3H141.2ZM142.95 427.6H144.7V429.8H142.95ZM144.7 427.6H148.45V429.3H144.7ZM148.45 427.6H150.2V428.9H148.45ZM150.2 427.6H151.95V429.8H150.2ZM151.95 427.6H155.45V431H151.95ZM155.45 427.6H157.2V436.9H155.45ZM157.2 427.6H159.7V435.1H157.2ZM159.7 427.6H161.7V453.2H159.7ZM161.7 427.6H163.95V432.2H161.7ZM163.95 427.6H168.7V429.3H163.95ZM168.7 427.6H170.45V431H168.7ZM170.45 427.6H173.95V429.8H170.45ZM173.95 427.6H193.2V429.3H173.95ZM193.2 427.6H194.95V431H193.2ZM194.95 427.6H196.7V429.3H194.95ZM196.7 427.6H198.2V431H196.7ZM198.2 427.6H199.95V429.3H198.2ZM199.95 427.6H201.7V429.8H199.95ZM201.7 427.6H203.45V431H201.7ZM203.45 427.6H204.95V429.3H203.45ZM204.95 427.6H206.7V435.1H204.95ZM206.7 427.6H208.45V484.8H206.7ZM208.45 427.6H210.2V428.7H208.45ZM210.2 427.6H213.7V429.8H210.2ZM213.7 427.6H215.45V429.3H213.7ZM215.45 427.6H217.2V461.4H215.45ZM217.2 427.6H218.95V429.8H217.2ZM218.95 427.6H239.45V429.3H218.95ZM239.45 427.6H242.7V436.9H239.45ZM242.7 427.6H243.95V431H242.7ZM243.95 427.6H248.2V429.3H243.95ZM248.2 427.6H249.95V431H248.2ZM249.95 427.6H253.45V429.3H249.95ZM253.45 427.6H255.2V429.8H253.45ZM255.2 427.6H260.95V429.3H255.2ZM260.95 427.6H262.2V435.7H260.95ZM262.2 427.6H263.95V431H262.2ZM263.95 427.6H267.45V429.3H263.95ZM267.45 427.6H269.2V429.8H267.45ZM269.2 427.6H272.7V429.3H269.2ZM272.7 427.6H274.2V431H272.7ZM274.2 427.6H275.7V499.9H274.2ZM275.7 427.6H277.45V429.3H275.7ZM277.45 427.6H279.2V428.7H277.45ZM279.2 427.6H287.95V429.3H279.2ZM287.95 427.6H289.7V429.8H287.95ZM289.7 427.6H291.45V435.7H289.7ZM291.45 427.6H293.2V429.8H291.45ZM293.2 427.6H294.45V433.4H293.2ZM294.45 427.6H296.7V440.4H294.45ZM296.7 427.6H300.2V429.8H296.7ZM300.2 427.6H301.95V431H300.2ZM301.95 427.6H303.7V437.5H301.95ZM303.7 427.6H307.2V431H303.7ZM307.2 427.6H308.95V429.8H307.2ZM308.95 427.6H310.7V437.5H308.95ZM310.7 427.6H312.45V431H310.7ZM312.45 427.6H314.2V429.8H312.45ZM314.2 427.6H317.45V431H314.2ZM317.45 427.6H318.95V433.4H317.45ZM318.95 427.6H320.7V445.6H318.95ZM320.7 427.6H322.45V439.2H320.7ZM322.45 427.6H323.95V429.8H322.45ZM323.95 427.6H330.95V429.3H323.95ZM330.95 427.6H332.7V429.8H330.95ZM332.7 427.6H334.45V461.4H332.7ZM334.45 427.6H336.2V429.3H334.45ZM336.2 427.6H337.95V446.2H336.2ZM337.95 427.6H339.7V483.1H337.95ZM339.7 427.6H341.45V431H339.7ZM341.45 427.6H343.2V429.3H341.45ZM343.2 427.6H344.95V432.2H343.2ZM344.95 427.6H348.45V429.3H344.95ZM348.45 427.6H350.2V439.2H348.45ZM350.2 427.6H354.95V429.3H350.2ZM354.95 427.6H356.7V436.9H354.95ZM356.7 427.6H363.7V429.3H356.7ZM363.7 427.6H365.45V441.5H363.7ZM365.45 427.6H367.2V429.8H365.45ZM367.2 427.6H368.95V449.7H367.2ZM368.95 427.6H379.45V429.3H368.95ZM379.45 427.6H381.2V445.1H379.45ZM381.2 427.6H382.95V429.3H381.2ZM382.95 427.6H384.7V431H382.95ZM384.7 427.6H391.95V429.3H384.7ZM391.95 427.6H393.7V435.1H391.95ZM393.7 427.6H395.45V436.9H393.7ZM395.45 427.6H397.2V433.4H395.45ZM397.2 427.6H400.7V466.1H397.2ZM400.7 427.6H403.95V429.3H400.7ZM403.95 427.6H410.95V428.7H403.95ZM410.95 427.6H412.7V435.1H410.95ZM412.7 427.6H423.2V428.7H412.7ZM423.2 427.6H424.95V434.5H423.2ZM424.95 427.6H431.95V428.7H424.95ZM431.95 427.6H433.45V429.3H431.95ZM433.45 427.6H448.7V428.7H433.45ZM448.7 427.6H450.45V545H448.7ZM450.45 427.6H453.7V552H450.45ZM453.7 427.6H455.45V543.8H453.7ZM455.45 427.6H457.7V548.5H455.45ZM457.7 427.6H459.45V547.3H457.7ZM459.45 427.6H461.2V536.8H459.45ZM461.2 427.6H471.2V551.4H461.2ZM471.2 427.6H472.95V523.7H471.2ZM472.95 427.6H491.95V551.4H472.95ZM491.95 427.6H493.7V543.8H491.95ZM493.7 427.6H495.7V545H493.7ZM495.7 427.6H497.95V547.9H495.7ZM497.95 427.6H501.2V551.4H497.95Z"/>
<path fill="#0f0" d="M87.2 431H87.95V549.1H87.2ZM87.95 429.3H89.2V536.2H87.95ZM89.2 428.9H90.95V549.6H89.2ZM90.95 428.9H92.7V552H90.95ZM92.7 428.9H94.45V491.2H92.7ZM94.45 428.9H101.45V552.6H94.45ZM101.45 428.9H103.2V539.7H101.45ZM103.2 428.9H104.95V549.6H103.2ZM104.95 428.9H106.7V552.6H104.95ZM106.7 428.9H108.2V545H106.7ZM108.2 428.9H109.95V434.5H108.2ZM109.95 428.9H111.95V431.6H109.95ZM111.95 428.9H113.45V501.7H111.95ZM113.45 428.9H115.2V539.1H113.45ZM115.2 428.9H116.95V546.1H115.2ZM116.95 428.9H118.7V547.3H116.95ZM118.7 428.9H120.2V544.4H118.7ZM120.2 428.9H121.95V550.2H120.2ZM121.95 428.9H123.7V547.3H121.95ZM123.7 428.9H125.45V514H123.7ZM125.45 428.9H127.2V547.9H125.45ZM127.2 428.9H128.95V550.2H127.2ZM128.95 428.9H130.7V450.9H128.95ZM130.7 429.8H132.45V452.7H130.7ZM132.45 428.9H134.2V552.6H132.45ZM134.2 428.9H135.95V540.1H134.2ZM135.95 428.9H137.7V547.9H135.95ZM137.7 428.7H139.45V449.7H137.7ZM139.45 428.7H141.2V429.3H139.45ZM141.2 429.3H142.95V431H141.2ZM142.95 429.8H144.7V431H142.95ZM144.7 429.3H146.45V430.4H144.7ZM146.45 429.3H148.45V431.3H146.45ZM148.45 428.9H150.2V429.8H148.45ZM150.2 429.8H151.95V433.9H150.2ZM151.95 431H155.45V435.1H151.95ZM155.45 436.9H157.2V448H155.45ZM157.2 435.1H159.7V437.5H157.2ZM159.7 453.2H161.7V462.6H159.7ZM161.7 432.2H163.95V433.4H161.7ZM163.95 429.3H165.45V433.9H163.95ZM165.45 429.3H166.95V431.6H165.45ZM166.95 429.3H168.7V432.2H166.95ZM168.7 431H170.45V445.1H168.7ZM170.45 429.8H172.2V435.7H170.45ZM172.2 429.8H173.95V459.1H172.2ZM173.95 429.3H175.7V432.8H173.95ZM175.7 429.3H177.45V440.4H175.7ZM177.45 429.3H182.7V432.2H177.45ZM182.7 429.3H184.45V434.5H182.7ZM184.45 429.3H186.2V431.6H184.45ZM186.2 429.3H187.95V432.8H186.2ZM187.95 429.3H189.7V433.4H187.95ZM189.7 429.3H193.2V431H189.7ZM193.2 431H194.95V459.1H193.2ZM194.95 429.3H196.7V432.2H194.95ZM196.7 431H198.2V434.5H196.7ZM198.2 429.3H199.95V435.1H198.2ZM199.95 429.8H201.7V439.2H199.95ZM201.7 431H203.45V507.5H201.7ZM203.45 429.3H204.95V433.4H203.45ZM204.95 435.1H206.7V435.7H204.95ZM208.45 428.7H210.2V429.3H208.45ZM210.2 429.8H211.95V433.9H210.2ZM211.95 429.8H213.7V438H211.95ZM213.7 429.3H215.45V472H213.7ZM215.45 461.4H217.2V464.9H215.45ZM217.2 429.8H218.95V441.5H217.2ZM218.95 429.3H220.7V477.8H218.95ZM220.7 429.3H222.45V527.4H220.7ZM222.45 429.3H223.95V501.1H222.45ZM223.95 429.3H225.7V450.9H223.95ZM225.7 429.3H227.45V451.5H225.7ZM227.45 429.3H229.2V431H227.45ZM229.2 429.3H230.95V433.4H229.2ZM230.95 429.3H232.7V459.1H230.95ZM232.7 429.3H234.2V432.2H232.7ZM234.2 429.3H235.95V490.6H234.2ZM235.95 429.3H237.7V450.9H235.95ZM237.7 429.3H239.45V430.4H237.7ZM239.45 436.9H241.2V443.3H239.45ZM241.2 436.9H242.7V439.8H241.2ZM242.7 431H243.95V434.5H242.7ZM243.95 429.3H245.2V431H243.95ZM245.2 429.3H246.45V432.8H245.2ZM246.45 429.3H248.2V431H246.45ZM248.2 431H249.95V435.7H248.2ZM249.95 429.3H251.7V446.2H249.95ZM251.7 429.3H253.45V438H251.7ZM253.45 429.8H255.2V435.7H253.45ZM255.2 429.3H256.95V431.6H255.2ZM256.95 429.3H258.7V432.2H256.95ZM258.7 429.3H260.95V431H258.7ZM260.95 435.7H262.2V439.2H260.95ZM262.2 431H263.95V441.5H262.2ZM263.95 429.3H265.7V433.4H263.95ZM265.7 429.3H267.45V443.9H265.7ZM267.45 429.8H269.2V451.5H267.45ZM269.2 429.3H270.95V433.4H269.2ZM270.95 429.3H272.7V431H270.95ZM272.7 431H274.2V436.9H272.7ZM274.2 499.9H275.7V502.3H274.2ZM275.7 429.3H277.45V429.8H275.7ZM277.45 428.7H279.2V429.8H277.45ZM279.2 429.3H281.2V522.2H279.2ZM281.2 429.3H282.95V431.6H281.2ZM282.95 429.3H287.95V429.8H282.95ZM287.95 429.8H289.7V431H287.95ZM291.45 429.8H293.2V432.2H291.45ZM293.2 433.4H294.45V434.5H293.2ZM294.45 440.4H296.7V449.7H294.45ZM296.7 429.8H298.45V433.4H296.7ZM298.45 429.8H300.2V431H298.45ZM300.2 431H301.95V435.7H300.2ZM301.95 437.5H303.7V437.8H301.95ZM303.7 431H305.45V433.4H303.7ZM305.45 431H307.2V435.7H305.45ZM307.2 429.8H308.95V431.6H307.2ZM308.95 437.5H310.7V441H308.95ZM310.7 431H312.45V433.4H310.7ZM312.45 429.8H314.2V439.2H312.45ZM314.2 431H317.45V435.7H314.2ZM317.45 433.4H318.95V439.2H317.45ZM318.95 445.6H320.7V480.1H318.95ZM320.7 439.2H322.45V440.4H320.7ZM322.45 429.8H323.95V431.6H322.45ZM323.95 429.3H325.7V431.6H323.95ZM325.7 429.3H327.45V429.8H325.7ZM327.45 429.3H329.2V430.4H327.45ZM329.2 429.3H330.95V431H329.2ZM330.95 429.8H332.7V434.5H330.95ZM332.7 461.4H334.45V461.7H332.7ZM334.45 429.3H336.2V431H334.45ZM336.2 446.2H337.95V446.8H336.2ZM337.95 483.1H339.7V483.3H337.95ZM339.7 431H341.45V460.3H339.7ZM341.45 429.3H343.2V429.8H341.45ZM343.2 432.2H344.95V480.1H343.2ZM344.95 429.3H346.7V432.8H344.95ZM346.7 429.3H348.45V445.6H346.7ZM348.45 439.2H350.2V471.4H348.45ZM350.2 429.3H354.95V431H350.2ZM354.95 436.9H356.7V438.6H354.95ZM356.7 429.3H363.7V430.4H356.7ZM363.7 441.5H365.45V443.3H363.7ZM365.45 429.8H367.2V430.4H365.45ZM367.2 449.7H368.95V450.3H367.2ZM368.95 429.3H372.45V430.4H368.95ZM372.45 429.3H374.2V433.4H372.45ZM374.2 429.3H377.7V430.4H374.2ZM377.7 429.3H379.45V429.8H377.7ZM379.45 445.1H381.2V445.6H379.45ZM381.2 429.3H382.95V430.4H381.2ZM382.95 431H384.7V432.2H382.95ZM384.7 429.3H391.95V430.4H384.7ZM391.95 435.1H393.7V435.7H391.95ZM393.7 436.9H395.45V440.4H393.7ZM395.45 433.4H397.2V435.7H395.45ZM397.2 466.1H400.7V469H397.2ZM400.7 429.3H403.95V431H400.7ZM403.95 428.7H410.95V429.6H403.95ZM410.95 435.1H412.7V436.3H410.95ZM412.7 428.7H423.2V429.6H412.7ZM423.2 434.5H424.95V435.7H423.2ZM424.95 428.7H425.7V429.6H424.95ZM425.7 428.7H427.45V432.2H425.7ZM427.45 428.7H431.95V429.6H427.45ZM431.95 429.3H433.45V470.8H431.95ZM433.45 428.7H443.7V429.6H433.45ZM443.7 428.7H445.45V433.9H443.7ZM445.45 428.7H448.7V429.6H445.45ZM448.7 545H450.45V545.6H448.7ZM450.45 552H453.7V552.3H450.45ZM453.7 543.8H455.45V548.5H453.7ZM455.45 548.5H457.7V550.2H455.45ZM457.7 547.3H459.45V548.5H457.7ZM459.45 536.8H461.2V537.4H459.45ZM461.2 551.4H471.2V552H461.2ZM471.2 523.7H472.95V523.9H471.2ZM472.95 551.4H491.95V552H472.95ZM491.95 543.8H493.7V544.4H491.95ZM493.7 545H495.7V545.6H493.7ZM495.7 547.9H497.95V548.5H495.7ZM497.95 551.4H501.2V552H497.95Z"/>
<path fill="#00f" d="M87.2 549.1H87.95V549.6H87.2ZM87.95 536.2H89.2V540.9H87.95ZM89.2 549.6H90.95V550.2H89.2ZM90.95 552H92.7V552.3H90.95ZM92.7 491.2H94.45V499.9H92.7ZM94.45 552.6H101.45V552.9H94.45ZM101.45 539.7H103.2V545.6H101.45ZM103.2 549.6H104.95V550.2H103.2ZM104.95 552.6H106.7V552.8H104.95ZM106.7 545H108.2V546.1H106.7ZM108.2 434.5H109.95V547.3H108.2ZM109.95 431.6H111.95V435.1H109.95ZM111.95 501.7H113.45V526.3H111.95ZM113.45 539.1H115.2V539.7H113.45ZM115.2 546.1H116.95V546.7H115.2ZM116.95 547.3H118.7V548.5H116.95ZM118.7 544.4H120.2V546.7H118.7ZM120.2 550.2H121.95V550.8H120.2ZM121.95 547.3H123.7V550.2H121.95ZM123.7 514H125.45V517.5H123.7ZM125.45 547.9H127.2V550.2H125.45ZM127.2 550.2H128.95V551.4H127.2ZM128.95 450.9H130.7V461.4H128.95ZM130.7 452.7H132.45V474.9H130.7ZM132.45 552.6H134.2V552.9H132.45ZM134.2 540.1H135.95V545.6H134.2ZM135.95 547.9H137.7V550.8H135.95ZM137.7 449.7H139.45V453.2H137.7ZM139.45 429.3H141.2V431.3H139.45ZM141.2 431H142.95V453.2H141.2ZM142.95 431H144.7V433.4H142.95ZM144.7 430.4H146.45V432.2H144.7ZM146.45 431.3H148.45V433.4H146.45ZM148.45 429.8H150.2V431.3H148.45ZM150.2 433.9H151.95V436.3H150.2ZM151.95 435.1H153.7V435.7H151.95ZM153.7 435.1H155.45V437.5H153.7ZM155.45 448H157.2V515.1H155.45ZM157.2 437.5H159.7V439.2H157.2ZM159.7 462.6H161.7V463.8H159.7ZM161.7 433.4H163.95V436.9H161.7ZM163.95 433.9H165.45V436.3H163.95ZM165.45 431.6H166.95V433.9H165.45ZM166.95 432.2H168.7V432.4H166.95ZM168.7 445.1H170.45V445.6H168.7ZM170.45 435.7H172.2V437.5H170.45ZM172.2 459.1H173.95V463.8H172.2ZM173.95 432.8H175.7V442.7H173.95ZM175.7 440.4H177.45V441.5H175.7ZM177.45 432.2H182.7V433.4H177.45ZM182.7 434.5H184.45V435.7H182.7ZM184.45 431.6H186.2V432.8H184.45ZM186.2 432.8H187.95V433.9H186.2ZM187.95 433.4H189.7V445.6H187.95ZM189.7 431H191.45V438H189.7ZM191.45 431H193.2V432.2H191.45ZM193.2 459.1H194.95V462H193.2ZM194.95 432.2H196.7V433.4H194.95ZM196.7 434.5H198.2V436.9H196.7ZM198.2 435.1H199.95V436.3H198.2ZM199.95 439.2H201.7V442.7H199.95ZM201.7 507.5H203.45V509.3H201.7ZM203.45 433.4H204.95V433.9H203.45ZM204.95 435.7H206.7V436.3H204.95ZM206.7 484.8H208.45V486.6H206.7ZM208.45 429.3H210.2V430.4H208.45ZM210.2 433.9H211.95V435.7H210.2ZM211.95 438H213.7V439.8H211.95ZM213.7 472H215.45V483.6H213.7ZM215.45 464.9H217.2V466.1H215.45ZM217.2 441.5H218.95V450.3H217.2ZM218.95 477.8H220.7V479.6H218.95ZM220.7 527.4H222.45V534.4H220.7ZM222.45 501.1H223.95V504H222.45ZM223.95 450.9H225.7V455H223.95ZM225.7 451.5H227.45V453.2H225.7ZM227.45 431H229.2V435.7H227.45ZM229.2 433.4H230.95V436.9H229.2ZM230.95 459.1H232.7V471.4H230.95ZM232.7 432.2H234.2V435.1H232.7ZM234.2 490.6H235.95V490.9H234.2ZM235.95 450.9H237.7V452.1H235.95ZM237.7 430.4H239.45V431.6H237.7ZM239.45 443.3H241.2V518.7H239.45ZM241.2 439.8H242.7V441.5H241.2ZM242.7 434.5H243.95V436.9H242.7ZM243.95 431H245.2V438.6H243.95ZM245.2 432.8H246.45V438H245.2ZM246.45 431H248.2V432.2H246.45ZM248.2 435.7H249.95V453.2H248.2ZM249.95 446.2H251.7V447.4H249.95ZM251.7 438H253.45V438.3H251.7ZM253.45 435.7H255.2V436.9H253.45ZM255.2 431.6H256.95V435.7H255.2ZM256.95 432.2H258.7V435.7H256.95ZM258.7 431H260.95V436.9H258.7ZM260.95 439.2H262.2V446.2H260.95ZM262.2 441.5H263.95V459.1H262.2ZM263.95 433.4H265.7V435.7H263.95ZM265.7 443.9H267.45V444.5H265.7ZM267.45 451.5H269.2V455.6H267.45ZM269.2 433.4H270.95V435.7H269.2ZM270.95 431H272.7V435.7H270.95ZM272.7 436.9H274.2V441.5H272.7ZM274.2 502.3H275.7V508.7H274.2ZM275.7 429.8H277.45V431H275.7ZM277.45 429.8H279.2V462H277.45ZM279.2 522.2H281.2V522.7H279.2ZM281.2 431.6H282.95V433.9H281.2ZM282.95 429.8H287.95V431H282.95ZM287.95 431H289.7V432.8H287.95ZM289.7 435.7H291.45V439.2H289.7ZM291.45 432.2H293.2V449.1H291.45ZM293.2 434.5H294.45V435.7H293.2ZM294.45 449.7H296.7V475.5H294.45ZM296.7 433.4H298.45V435.7H296.7ZM298.45 431H300.2V432.8H298.45ZM300.2 435.7H301.95V446.8H300.2ZM301.95 437.8H303.7V438H301.95ZM303.7 433.4H305.45V435.7H303.7ZM305.45 435.7H307.2V438.6H305.45ZM307.2 431.6H308.95V433.4H307.2ZM308.95 441H310.7V460.3H308.95ZM310.7 433.4H312.45V435.7H310.7ZM314.2 435.7H315.7V441.5H314.2ZM315.7 435.7H317.45V504H315.7ZM317.45 439.2H318.95V520.4H317.45ZM318.95 480.1H320.7V491.8H318.95ZM320.7 440.4H322.45V441.5H320.7ZM322.45 431.6H325.7V433.4H322.45ZM325.7 429.8H327.45V431H325.7ZM327.45 430.4H329.2V432.2H327.45ZM329.2 431H330.95V432.8H329.2ZM330.95 434.5H332.7V435.7H330.95ZM332.7 461.7H334.45V464.4H332.7ZM334.45 431H336.2V433.4H334.45ZM336.2 446.8H337.95V448.6H336.2ZM337.95 483.3H339.7V485.4H337.95ZM339.7 460.3H341.45V464.4H339.7ZM341.45 429.8H343.2V489.5H341.45ZM343.2 480.1H344.95V482.5H343.2ZM344.95 432.8H346.7V433.9H344.95ZM346.7 445.6H348.45V448H346.7ZM348.45 471.4H350.2V472.5H348.45ZM350.2 431H354.95V433.4H350.2ZM354.95 438.6H356.7V441.5H354.95ZM356.7 430.4H363.7V431.6H356.7ZM363.7 443.3H365.45V457.3H363.7ZM365.45 430.4H367.2V431H365.45ZM367.2 450.3H368.95V452.1H367.2ZM368.95 430.4H372.45V431.6H368.95ZM372.45 433.4H374.2V435.1H372.45ZM374.2 430.4H377.7V432.2H374.2ZM377.7 429.8H379.45V472H377.7ZM379.45 445.6H381.2V447.4H379.45ZM381.2 430.4H382.95V432.2H381.2ZM382.95 432.2H384.7V450.3H382.95ZM384.7 430.4H391.95V431.6H384.7ZM391.95 435.7H393.7V436.9H391.95ZM393.7 440.4H395.45V442.1H393.7ZM395.45 435.7H397.2V436.9H395.45ZM397.2 469H398.95V533.3H397.2ZM398.95 469H400.7V491.8H398.95ZM400.7 431H403.95V546.1H400.7ZM403.95 429.6H410.95V550.8H403.95ZM410.95 436.3H412.7V550.8H410.95ZM412.7 429.6H413.95V550.8H412.7ZM413.95 429.6H415.7V547.9H413.95ZM415.7 429.6H423.2V550.8H415.7ZM423.2 435.7H424.95V538H423.2ZM424.95 429.6H425.7V552H424.95ZM425.7 432.2H427.45V552H425.7ZM427.45 429.6H431.95V552H427.45ZM431.95 470.8H433.45V549.1H431.95ZM433.45 429.6H437.95V549.1H433.45ZM437.95 429.6H441.95V552H437.95ZM441.95 429.6H443.7V540.3H441.95ZM443.7 433.9H445.45V552H443.7ZM445.45 429.6H448.7V552H445.45ZM448.7 545.6H450.45V549.1H448.7ZM450.45 552.3H453.7V552.7H450.45ZM453.7 548.5H455.45V550.8H453.7ZM455.45 550.2H457.7V551.4H455.45ZM457.7 548.5H459.45V549.6H457.7ZM459.45 537.4H461.2V539.7H459.45ZM461.2 552H471.2V552.6H461.2ZM471.2 523.9H472.95V530.9H471.2ZM472.95 552H491.95V552.6H472.95ZM491.95 544.4H493.7V546.1H491.95ZM493.7 545.6H495.7V550.8H493.7ZM495.7 548.5H497.95V549.1H495.7ZM497.95 552H501.2V552.6H497.95Z"/>
<path fill="#ff0" d="M87.2 549.6H87.95V550.8H87.2ZM87.95 540.9H89.2V546.1H87.95ZM90.95 552.3H92.7V552.7H90.95ZM92.7 499.9H94.45V502.9H92.7ZM94.45 552.9H101.45V553.2H94.45ZM101.45 545.6H103.2V549.6H101.45ZM103.2 550.2H104.95V552H103.2ZM104.95 552.8H106.7V553.2H104.95ZM106.7 546.1H108.2V547.3H106.7ZM111.95 526.3H113.45V528H111.95ZM113.45 539.7H115.2V541.5H113.45ZM115.2 546.7H116.95V547.9H115.2ZM116.95 548.5H118.7V550.8H116.95ZM118.7 546.7H120.2V550.8H118.7ZM120.2 550.8H121.95V552H120.2ZM121.95 550.2H123.7V550.8H121.95ZM123.7 517.5H125.45V523.9H123.7ZM125.45 550.2H127.2V550.8H125.45ZM128.95 461.4H130.7V507.5H128.95ZM130.7 474.9H132.45V500.5H130.7ZM132.45 552.9H134.2V553.2H132.45ZM134.2 545.6H135.95V547.9H134.2ZM141.2 453.2H142.95V455.6H141.2ZM146.45 433.4H148.45V438.6H146.45ZM150.2 436.3H151.95V450.9H150.2ZM151.95 435.7H153.7V455.6H151.95ZM155.45 515.1H157.2V534.4H155.45ZM157.2 439.2H159.7V452.7H157.2ZM159.7 463.8H161.7V470.2H159.7ZM163.95 436.3H165.45V498.2H163.95ZM165.45 433.9H166.95V434.5H165.45ZM166.95 432.4H168.7V432.8H166.95ZM168.7 445.6H170.45V448.6H168.7ZM170.45 437.5H172.2V438H170.45ZM172.2 463.8H173.95V467.3H172.2ZM173.95 442.7H175.7V444.5H173.95ZM175.7 441.5H177.45V442.1H175.7ZM177.45 433.4H182.7V433.9H177.45ZM182.7 435.7H184.45V441.5H182.7ZM184.45 432.8H186.2V433.4H184.45ZM186.2 433.9H187.95V434.5H186.2ZM187.95 445.6H189.7V453.8H187.95ZM189.7 438H191.45V442.7H189.7ZM191.45 432.2H193.2V432.8H191.45ZM193.2 462H194.95V463.8H193.2ZM194.95 433.4H196.7V433.9H194.95ZM196.7 436.9H198.2V437.5H196.7ZM198.2 436.3H199.95V467.3H198.2ZM199.95 442.7H201.7V448.6H199.95ZM203.45 433.9H204.95V448.6H203.45ZM204.95 436.3H206.7V438.6H204.95ZM206.7 486.6H208.45V488.9H206.7ZM208.45 430.4H210.2V431H208.45ZM210.2 435.7H211.95V486H210.2ZM211.95 439.8H213.7V440.4H211.95ZM213.7 483.6H215.45V487.7H213.7ZM215.45 466.1H217.2V475.5H215.45ZM217.2 450.3H218.95V515.1H217.2ZM218.95 479.6H220.7V480.1H218.95ZM220.7 534.4H222.45V536.8H220.7ZM222.45 504H223.95V512.2H222.45ZM223.95 455H225.7V456.2H223.95ZM225.7 453.2H227.45V457.9H225.7ZM227.45 435.7H229.2V448H227.45ZM229.2 436.9H230.95V437.5H229.2ZM230.95 471.4H232.7V473.7H230.95ZM232.7 435.1H234.2V436.9H232.7ZM234.2 490.9H235.95V492.3H234.2ZM235.95 452.1H237.7V453.2H235.95ZM237.7 431.6H239.45V435.7H237.7ZM239.45 518.7H241.2V524.5H239.45ZM241.2 441.5H242.7V442.1H241.2ZM242.7 436.9H243.95V512.2H242.7ZM243.95 438.6H245.2V512.2H243.95ZM245.2 438H246.45V469.6H245.2ZM246.45 432.2H248.2V432.8H246.45ZM248.2 453.2H249.95V484.8H248.2ZM249.95 447.4H251.7V456.7H249.95ZM251.7 438.3H253.45V438.6H251.7ZM253.45 436.9H255.2V438H253.45ZM255.2 435.7H256.95V546.7H255.2ZM256.95 435.7H258.7V548.5H256.95ZM258.7 436.9H260.95V524.5H258.7ZM260.95 446.2H262.2V463.8H260.95ZM262.2 459.1H263.95V512.8H262.2ZM263.95 435.7H265.7V541.5H263.95ZM265.7 444.5H267.45V497H265.7ZM267.45 455.6H269.2V461.4H267.45ZM269.2 435.7H270.95V515.1H269.2ZM270.95 435.7H272.7V443.9H270.95ZM272.7 441.5H274.2V535.6H272.7ZM274.2 508.7H275.7V547.9H274.2ZM275.7 431H277.45V475.5H275.7ZM277.45 462H279.2V467.9H277.45ZM279.2 522.7H281.2V550.8H279.2ZM281.2 433.9H282.95V547.9H281.2ZM282.95 431H284.45V506.4H282.95ZM284.45 431H286.2V463.2H284.45ZM286.2 431H287.95V551.4H286.2ZM287.95 432.8H289.7V514H287.95ZM289.7 439.2H291.45V543.2H289.7ZM291.45 449.1H293.2V467.9H291.45ZM293.2 435.7H294.45V436.9H293.2ZM294.45 475.5H296.7V478.4H294.45ZM296.7 435.7H298.45V546.7H296.7ZM298.45 432.8H300.2V547.9H298.45ZM300.2 446.8H301.95V473.1H300.2ZM301.95 438H303.7V529.8H301.95ZM303.7 435.7H305.45V459.7H303.7ZM305.45 438.6H307.2V532.1H305.45ZM307.2 433.4H308.95V523.9H307.2ZM308.95 460.3H310.7V478.4H308.95ZM310.7 435.7H312.45V516.9H310.7ZM312.45 439.2H314.2V449.1H312.45ZM314.2 441.5H315.7V448.6H314.2ZM315.7 504H317.45V541.5H315.7ZM317.45 520.4H318.95V529.8H317.45ZM318.95 491.8H320.7V499.9H318.95ZM320.7 441.5H322.45V453.2H320.7ZM322.45 433.4H323.95V546.7H322.45ZM323.95 433.4H325.7V547.3H323.95ZM325.7 431H327.45V545.6H325.7ZM327.45 432.2H329.2V487.7H327.45ZM329.2 432.8H330.95V541.5H329.2ZM330.95 435.7H332.7V438.6H330.95ZM332.7 464.4H334.45V547.3H332.7ZM334.45 433.4H336.2V543.8H334.45ZM336.2 448.6H337.95V457.9H336.2ZM337.95 485.4H339.7V552H337.95ZM339.7 464.4H341.45V529.2H339.7ZM341.45 489.5H343.2V525.7H341.45ZM343.2 482.5H344.95V547.3H343.2ZM344.95 433.9H346.7V550.8H344.95ZM346.7 448H348.45V550.8H346.7ZM348.45 472.5H350.2V550.8H348.45ZM350.2 433.4H351.95V546.1H350.2ZM351.95 433.4H353.7V549.1H351.95ZM353.7 433.4H354.95V552.6H353.7ZM354.95 441.5H356.7V542H354.95ZM356.7 431.6H362.45V552.6H356.7ZM362.45 431.6H363.7V539.1H362.45ZM363.7 457.3H365.45V553.2H363.7ZM365.45 431H367.2V553.2H365.45ZM367.2 452.1H368.95V553.2H367.2ZM368.95 431.6H372.45V553.2H368.95ZM372.45 435.1H374.2V546.1H372.45ZM374.2 432.2H375.95V553.2H374.2ZM375.95 432.2H377.7V544.4H375.95ZM377.7 472H379.45V552.6H377.7ZM379.45 447.4H381.2V552.6H379.45ZM381.2 432.2H382.95V552.6H381.2ZM382.95 450.3H384.7V552.6H382.95ZM384.7 431.6H391.95V552.6H384.7ZM391.95 436.9H393.7V552.6H391.95ZM393.7 442.1H395.45V550.8H393.7ZM395.45 436.9H397.2V550.2H395.45ZM397.2 533.3H398.95V543.8H397.2ZM398.95 491.8H400.7V495.8H398.95ZM400.7 546.1H403.95V550.2H400.7ZM403.95 550.8H413.95V552.6H403.95ZM413.95 547.9H415.7V552.6H413.95ZM415.7 550.8H423.2V552.6H415.7ZM423.2 538H424.95V552H423.2ZM424.95 552H431.95V552.9H424.95ZM431.95 549.1H437.95V551.4H431.95ZM437.95 552H441.95V552.9H437.95ZM441.95 540.3H443.7V546.1H441.95ZM443.7 552H448.7V552.9H443.7ZM448.7 549.1H450.45V552H448.7ZM450.45 552.7H453.7V553H450.45ZM453.7 550.8H455.45V552.6H453.7ZM455.45 551.4H457.7V552.6H455.45ZM457.7 549.6H459.45V552H457.7ZM459.45 539.7H461.2V550.8H459.45ZM461.2 552.6H471.2V552.9H461.2ZM471.2 530.9H472.95V551.4H471.2ZM472.95 552.6H491.95V552.9H472.95ZM491.95 546.1H493.7V552H491.95ZM493.7 550.8H495.7V552H493.7ZM495.7 549.1H497.95V552H495.7ZM497.95 552.6H501.2V552.9H497.95Z"/>
<path fill="#f0f" d="M87.2 550.8H87.95V553.4H87.2ZM87.95 546.1H89.2V553.4H87.95ZM89.2 550.2H90.95V553.4H89.2ZM90.95 552.7H92.7V553.4H90.95ZM92.7 502.9H94.45V553.4H92.7ZM94.45 553.2H101.45V553.4H94.45ZM101.45 549.6H103.2V553.4H101.45ZM103.2 552H104.95V553.4H103.2ZM104.95 553.2H106.7V553.4H104.95ZM106.7 547.3H109.95V553.4H106.7ZM109.95 435.1H111.95V553.4H109.95ZM111.95 528H113.45V553.4H111.95ZM113.45 541.5H115.2V553.4H113.45ZM115.2 547.9H116.95V553.4H115.2ZM116.95 550.8H120.2V553.4H116.95ZM120.2 552H121.95V553.4H120.2ZM121.95 550.8H123.7V553.4H121.95ZM123.7 523.9H125.45V553.4H123.7ZM125.45 550.8H127.2V553.4H125.45ZM127.2 551.4H128.95V553.4H127.2ZM128.95 507.5H130.7V553.4H128.95ZM130.7 500.5H132.45V553.4H130.7ZM132.45 553.2H134.2V553.4H132.45ZM134.2 547.9H135.95V553.4H134.2ZM135.95 550.8H137.7V553.4H135.95ZM137.7 453.2H139.45V553.4H137.7ZM139.45 431.3H141.2V553.4H139.45ZM141.2 455.6H142.95V553.4H141.2ZM142.95 433.4H144.7V553.4H142.95ZM144.7 432.2H146.45V553.4H144.7ZM146.45 438.6H148.45V553.4H146.45ZM148.45 431.3H150.2V553.4H148.45ZM150.2 450.9H151.95V553.4H150.2ZM151.95 455.6H153.7V553.4H151.95ZM153.7 437.5H155.45V553.4H153.7ZM155.45 534.4H157.2V553.4H155.45ZM157.2 452.7H159.7V553.4H157.2ZM159.7 470.2H161.7V553.4H159.7ZM161.7 436.9H163.95V553.4H161.7ZM163.95 498.2H165.45V553.4H163.95ZM165.45 434.5H166.95V553.4H165.45ZM166.95 432.8H168.7V553.4H166.95ZM168.7 448.6H170.45V553.4H168.7ZM170.45 438H172.2V553.4H170.45ZM172.2 467.3H173.95V553.4H172.2ZM173.95 444.5H175.7V553.4H173.95ZM175.7 442.1H177.45V553.4H175.7ZM177.45 433.9H182.7V553.4H177.45ZM182.7 441.5H184.45V553.4H182.7ZM184.45 433.4H186.2V553.4H184.45ZM186.2 434.5H187.95V553.4H186.2ZM187.95 453.8H189.7V553.4H187.95ZM189.7 442.7H191.45V553.4H189.7ZM191.45 432.8H193.2V553.4H191.45ZM193.2 463.8H194.95V553.4H193.2ZM194.95 433.9H196.7V553.4H194.95ZM196.7 437.5H198.2V553.4H196.7ZM198.2 467.3H199.95V553.4H198.2ZM199.95 448.6H201.7V553.4H199.95ZM201.7 509.3H203.45V553.4H201.7ZM203.45 448.6H204.95V553.4H203.45ZM204.95 438.6H206.7V553.4H204.95ZM206.7 488.9H208.45V553.4H206.7ZM208.45 431H210.2V553.4H208.45ZM210.2 486H211.95V553.4H210.2ZM211.95 440.4H213.7V553.4H211.95ZM213.7 487.7H215.45V553.4H213.7ZM215.45 475.5H217.2V553.4H215.45ZM217.2 515.1H218.95V553.4H217.2ZM218.95 480.1H220.7V553.4H218.95ZM220.7 536.8H222.45V553.4H220.7ZM222.45 512.2H223.95V553.4H222.45ZM223.95 456.2H225.7V553.4H223.95ZM225.7 457.9H227.45V553.4H225.7ZM227.45 448H229.2V553.4H227.45ZM229.2 437.5H230.95V553.4H229.2ZM230.95 473.7H232.7V553.4H230.95ZM232.7 436.9H234.2V553.4H232.7ZM234.2 492.3H235.95V553.4H234.2ZM235.95 453.2H237.7V553.4H235.95ZM237.7 435.7H239.45V553.4H237.7ZM239.45 524.5H241.2V553.4H239.45ZM241.2 442.1H242.7V553.4H241.2ZM242.7 512.2H245.2V553.4H242.7ZM245.2 469.6H246.45V553.4H245.2ZM246.45 432.8H248.2V553.4H246.45ZM248.2 484.8H249.95V553.4H248.2ZM249.95 456.7H251.7V553.4H249.95ZM251.7 438.6H253.45V553.4H251.7ZM253.45 438H255.2V553.4H253.45ZM255.2 546.7H256.95V553.4H255.2ZM256.95 548.5H258.7V553.4H256.95ZM258.7 524.5H260.95V553.4H258.7ZM260.95 463.8H262.2V553.4H260.95ZM262.2 512.8H263.95V553.4H262.2ZM263.95 541.5H265.7V553.4H263.95ZM265.7 497H267.45V553.4H265.7ZM267.45 461.4H269.2V553.4H267.45ZM269.2 515.1H270.95V553.4H269.2ZM270.95 443.9H272.7V553.4H270.95ZM272.7 535.6H274.2V553.4H272.7ZM274.2 547.9H275.7V553.4H274.2ZM275.7 475.5H277.45V553.4H275.7ZM277.45 467.9H279.2V553.4H277.45ZM279.2 550.8H281.2V553.4H279.2ZM281.2 547.9H282.95V553.4H281.2ZM282.95 506.4H284.45V553.4H282.95ZM284.45 463.2H286.2V553.4H284.45ZM286.2 551.4H287.95V553.4H286.2ZM287.95 514H289.7V553.4H287.95ZM289.7 543.2H291.45V553.4H289.7ZM291.45 467.9H293.2V553.4H291.45ZM293.2 436.9H294.45V553.4H293.2ZM294.45 478.4H296.7V553.4H294.45ZM296.7 546.7H298.45V553.4H296.7ZM298.45 547.9H300.2V553.4H298.45ZM300.2 473.1H301.95V553.4H300.2ZM301.95 529.8H303.7V553.4H301.95ZM303.7 459.7H305.45V553.4H303.7ZM305.45 532.1H307.2V553.4H305.45ZM307.2 523.9H308.95V553.4H307.2ZM308.95 478.4H310.7V553.4H308.95ZM310.7 516.9H312.45V553.4H310.7ZM312.45 449.1H314.2V553.4H312.45ZM314.2 448.6H315.7V553.4H314.2ZM315.7 541.5H317.45V553.4H315.7ZM317.45 529.8H318.95V553.4H317.45ZM318.95 499.9H320.7V553.4H318.95ZM320.7 453.2H322.45V553.4H320.7ZM322.45 546.7H323.95V553.4H322.45ZM323.95 547.3H325.7V553.4H323.95ZM325.7 545.6H327.45V553.4H325.7ZM327.45 487.7H329.2V553.4H327.45ZM329.2 541.5H330.95V553.4H329.2ZM330.95 438.6H332.7V553.4H330.95ZM332.7 547.3H334.45V553.4H332.7ZM334.45 543.8H336.2V553.4H334.45ZM336.2 457.9H337.95V553.4H336.2ZM337.95 552H339.7V553.4H337.95ZM339.7 529.2H341.45V553.4H339.7ZM341.45 525.7H343.2V553.4H341.45ZM343.2 547.3H344.95V553.4H343.2ZM344.95 550.8H350.2V553.4H344.95ZM350.2 546.1H351.95V553.4H350.2ZM351.95 549.1H353.7V553.4H351.95ZM353.7 552.6H354.95V553.4H353.7ZM354.95 542H356.7V553.4H354.95ZM356.7 552.6H362.45V553.4H356.7ZM362.45 539.1H363.7V553.4H362.45ZM363.7 553.2H372.45V553.4H363.7ZM372.45 546.1H374.2V553.4H372.45ZM374.2 553.2H375.95V553.4H374.2ZM375.95 544.4H377.7V553.4H375.95ZM377.7 552.6H393.7V553.4H377.7ZM393.7 550.8H395.45V553.4H393.7ZM395.45 550.2H397.2V553.4H395.45ZM397.2 543.8H398.95V553.4H397.2ZM398.95 495.8H400.7V553.4H398.95ZM400.7 550.2H403.95V553.4H400.7ZM403.95 552.6H423.2V553.4H403.95ZM423.2 552H424.95V553.4H423.2ZM424.95 552.9H431.95V553.4H424.95ZM431.95 551.4H437.95V553.4H431.95ZM437.95 552.9H441.95V553.4H437.95ZM441.95 546.1H443.7V553.4H441.95ZM443.7 552.9H448.7V553.4H443.7ZM448.7 552H450.45V553.4H448.7ZM450.45 553H453.7V553.4H450.45ZM453.7 552.6H457.7V553.4H453.7ZM457.7 552H459.45V553.4H457.7ZM459.45 550.8H461.2V553.4H459.45ZM461.2 552.9H471.2V553.4H461.2ZM471.2 551.4H472.95V553.4H471.2ZM472.95 552.9H491.95V553.4H472.95ZM491.95 552H497.95V553.4H491.95ZM497.95 552.9H501.2V553.4H497.95Z"/>
<line x1="87.9" y1="281.6" x2="87.9" y2="411" stroke="#222" stroke-width="1"/>
<line x1="82" y1="410.9" x2="507" y2="410.9" stroke="#555" stroke-width="1.2"/>
<line x1="82" y1="286.3" x2="87.9" y2="286.3" stroke="#222" stroke-width="0.9"/>
<text x="73.9" y="288.5" font-family="'Liberation Serif','Times New Roman',serif" font-size="10.6" fill="#111" text-anchor="end" textLength="17.3" lengthAdjust="spacingAndGlyphs" stroke="#111" stroke-width="0.2">1.00</text>
<line x1="82" y1="311.12" x2="87.9" y2="311.12" stroke="#222" stroke-width="0.9"/>
<text x="73.9" y="313.32" font-family="'Liberation Serif','Times New Roman',serif" font-size="10.6" fill="#111" text-anchor="end" textLength="17.3" lengthAdjust="spacingAndGlyphs" stroke="#111" stroke-width="0.2">0.80</text>
<line x1="82" y1="335.94" x2="87.9" y2="335.94" stroke="#222" stroke-width="0.9"/>
<text x="73.9" y="338.14" font-family="'Liberation Serif','Times New Roman',serif" font-size="10.6" fill="#111" text-anchor="end" textLength="17.3" lengthAdjust="spacingAndGlyphs" stroke="#111" stroke-width="0.2">0.60</text>
<line x1="82" y1="360.76" x2="87.9" y2="360.76" stroke="#222" stroke-width="0.9"/>
<text x="73.9" y="362.96" font-family="'Liberation Serif','Times New Roman',serif" font-size="10.6" fill="#111" text-anchor="end" textLength="17.3" lengthAdjust="spacingAndGlyphs" stroke="#111" stroke-width="0.2">0.40</text>
<line x1="82" y1="385.58" x2="87.9" y2="385.58" stroke="#222" stroke-width="0.9"/>
<text x="73.9" y="387.78" font-family="'Liberation Serif','Times New Roman',serif" font-size="10.6" fill="#111" text-anchor="end" textLength="17.3" lengthAdjust="spacingAndGlyphs" stroke="#111" stroke-width="0.2">0.20</text>
<text x="73.9" y="412.6" font-family="'Liberation Serif','Times New Roman',serif" font-size="10.6" fill="#111" text-anchor="end" textLength="17.3" lengthAdjust="spacingAndGlyphs" stroke="#111" stroke-width="0.2">0.00</text>
<line x1="86.6" y1="422.8" x2="86.6" y2="554" stroke="#222" stroke-width="1"/>
<line x1="80.7" y1="553.9" x2="507" y2="553.9" stroke="#555" stroke-width="1.2"/>
<line x1="80.7" y1="427.5" x2="86.6" y2="427.5" stroke="#222" stroke-width="0.9"/>
<text x="72.2" y="429.8" font-family="'Liberation Serif','Times New Roman',serif" font-size="10.6" fill="#111" text-anchor="end" textLength="17.3" lengthAdjust="spacingAndGlyphs" stroke="#111" stroke-width="0.2">1.00</text>
<line x1="80.7" y1="452.68" x2="86.6" y2="452.68" stroke="#222" stroke-width="0.9"/>
<text x="72.2" y="454.98" font-family="'Liberation Serif','Times New Roman',serif" font-size="10.6" fill="#111" text-anchor="end" textLength="17.3" lengthAdjust="spacingAndGlyphs" stroke="#111" stroke-width="0.2">0.80</text>
<line x1="80.7" y1="477.86" x2="86.6" y2="477.86" stroke="#222" stroke-width="0.9"/>
<text x="72.2" y="480.16" font-family="'Liberation Serif','Times New Roman',serif" font-size="10.6" fill="#111" text-anchor="end" textLength="17.3" lengthAdjust="spacingAndGlyphs" stroke="#111" stroke-width="0.2">0.60</text>
<line x1="80.7" y1="503.04" x2="86.6" y2="503.04" stroke="#222" stroke-width="0.9"/>
<text x="72.2" y="505.34" font-family="'Liberation Serif','Times New Roman',serif" font-size="10.6" fill="#111" text-anchor="end" textLength="17.3" lengthAdjust="spacingAndGlyphs" stroke="#111" stroke-width="0.2">0.40</text>
<line x1="80.7" y1="528.22" x2="86.6" y2="528.22" stroke="#222" stroke-width="0.9"/>
<text x="72.2" y="530.52" font-family="'Liberation Serif','Times New Roman',serif" font-size="10.6" fill="#111" text-anchor="end" textLength="17.3" lengthAdjust="spacingAndGlyphs" stroke="#111" stroke-width="0.2">0.20</text>
<text x="72.2" y="555.7" font-family="'Liberation Serif','Times New Roman',serif" font-size="10.6" fill="#111" text-anchor="end" textLength="17.3" lengthAdjust="spacingAndGlyphs" stroke="#111" stroke-width="0.2">0.00</text></g>
<g id="poplabels"><text x="98" y="577.1" font-family="'Liberation Sans',Arial,sans-serif" font-size="14.4" fill="#000" text-anchor="start" textLength="17.9" lengthAdjust="spacingAndGlyphs" stroke="#000" stroke-width="0.2">OT</text>
<text x="151.7" y="577.1" font-family="'Liberation Sans',Arial,sans-serif" font-size="14.4" fill="#000" text-anchor="start" textLength="24.3" lengthAdjust="spacingAndGlyphs" stroke="#000" stroke-width="0.2">WT</text>
<text x="205.6" y="577.1" font-family="'Liberation Sans',Arial,sans-serif" font-size="14.4" fill="#000" text-anchor="start" textLength="20.2" lengthAdjust="spacingAndGlyphs" stroke="#000" stroke-width="0.2">HR</text>
<text x="252.8" y="577.1" font-family="'Liberation Sans',Arial,sans-serif" font-size="14.4" fill="#000" text-anchor="start" textLength="30.8" lengthAdjust="spacingAndGlyphs" stroke="#000" stroke-width="0.2">MCS</text>
<text x="303.3" y="577.1" font-family="'Liberation Sans',Arial,sans-serif" font-size="14.4" fill="#000" text-anchor="start" textLength="33.3" lengthAdjust="spacingAndGlyphs" stroke="#000" stroke-width="0.2">MCN</text>
<text x="357.2" y="577.1" font-family="'Liberation Sans',Arial,sans-serif" font-size="14.4" fill="#000" text-anchor="start" textLength="26.3" lengthAdjust="spacingAndGlyphs" stroke="#000" stroke-width="0.2">LGR</text>
<text x="410.2" y="577.1" font-family="'Liberation Sans',Arial,sans-serif" font-size="14.4" fill="#000" text-anchor="start" textLength="23.7" lengthAdjust="spacingAndGlyphs" stroke="#000" stroke-width="0.2">IGR</text>
<text x="465.4" y="577.1" font-family="'Liberation Sans',Arial,sans-serif" font-size="14.4" fill="#000" text-anchor="start" textLength="18.2" lengthAdjust="spacingAndGlyphs" stroke="#000" stroke-width="0.2">VR</text></g>
<g id="letters"><text x="14.9" y="31.9" font-family="'Liberation Sans',Arial,sans-serif" font-size="32.8" fill="#000" text-anchor="start" textLength="14.6" lengthAdjust="spacingAndGlyphs" stroke="#000" stroke-width="0.2">a</text>
<text x="14.5" y="301" font-family="'Liberation Sans',Arial,sans-serif" font-size="32" fill="#000" text-anchor="start" textLength="18.2" lengthAdjust="spacingAndGlyphs" stroke="#000" stroke-width="0.2">b</text>
<text x="520.2" y="300.1" font-family="'Liberation Sans',Arial,sans-serif" font-size="31.5" fill="#000" text-anchor="start" textLength="15.6" lengthAdjust="spacingAndGlyphs" stroke="#000" stroke-width="0.3">c</text>
<text x="1.3" y="366" font-family="'Liberation Sans',Arial,sans-serif" font-size="19.8" fill="#000" text-anchor="start" textLength="41.4" lengthAdjust="spacingAndGlyphs" stroke="#000" stroke-width="0.3">K = 3</text>
<text x="1.3" y="503.6" font-family="'Liberation Sans',Arial,sans-serif" font-size="19.8" fill="#000" text-anchor="start" textLength="41.4" lengthAdjust="spacingAndGlyphs" stroke="#000" stroke-width="0.3">K = 5</text></g>
<g id="trees"><line x1="561.6" y1="329.6" x2="561.6" y2="326" stroke="#555" stroke-width="0.9"/>
<line x1="561.6" y1="329.6" x2="530.3" y2="342.8" stroke="#555" stroke-width="0.9"/>
<line x1="561.6" y1="329.6" x2="639.2" y2="362.3" stroke="#555" stroke-width="0.9"/>
<text x="559" y="321" font-family="'Liberation Sans',Arial,sans-serif" font-size="19.4" fill="#0000f0" text-anchor="start" stroke-width="0.3" stroke="#0000f0">3</text>
<text x="513" y="354.3" font-family="'Liberation Sans',Arial,sans-serif" font-size="19.4" fill="#00ee00" text-anchor="start" stroke-width="0.3" stroke="#00ee00">2</text>
<text x="650.6" y="374.1" font-family="'Liberation Sans',Arial,sans-serif" font-size="19.6" fill="#f00000" text-anchor="start" stroke-width="0.3" stroke="#f00000">1</text>
<line x1="595.2" y1="478.5" x2="596.5" y2="430.5" stroke="#2a2a2a" stroke-width="0.9"/>
<line x1="595" y1="478.5" x2="567.6" y2="479.4" stroke="#2a2a2a" stroke-width="0.9"/>
<line x1="567.6" y1="479.4" x2="560.7" y2="476.3" stroke="#2a2a2a" stroke-width="0.9"/>
<line x1="567.6" y1="479.4" x2="514.2" y2="533.1" stroke="#2a2a2a" stroke-width="0.9"/>
<line x1="595" y1="478.5" x2="607.5" y2="481" stroke="#2a2a2a" stroke-width="0.9"/>
<line x1="607.5" y1="481" x2="620.9" y2="477.3" stroke="#2a2a2a" stroke-width="0.9"/>
<line x1="607.5" y1="481" x2="679.1" y2="554.8" stroke="#2a2a2a" stroke-width="0.9"/>
<text x="595.2" y="425.8" font-family="'Liberation Sans',Arial,sans-serif" font-size="14.4" fill="#0000f0" text-anchor="start">3</text>
<text x="548.4" y="475.7" font-family="'Liberation Sans',Arial,sans-serif" font-size="14.4" fill="#ff00ff" text-anchor="start">5</text>
<text x="630.4" y="475" font-family="'Liberation Sans',Arial,sans-serif" font-size="16.8" fill="#ffcc33" text-anchor="start">4</text>
<text x="512.5" y="545" font-family="'Liberation Sans',Arial,sans-serif" font-size="14.8" fill="#00ee00" text-anchor="start">2</text>
<text x="677.2" y="567.6" font-family="'Liberation Sans',Arial,sans-serif" font-size="14.8" fill="#f00000" text-anchor="start" stroke-width="0.3" stroke="#f00000">1</text></g>
</svg>
</body></html>
